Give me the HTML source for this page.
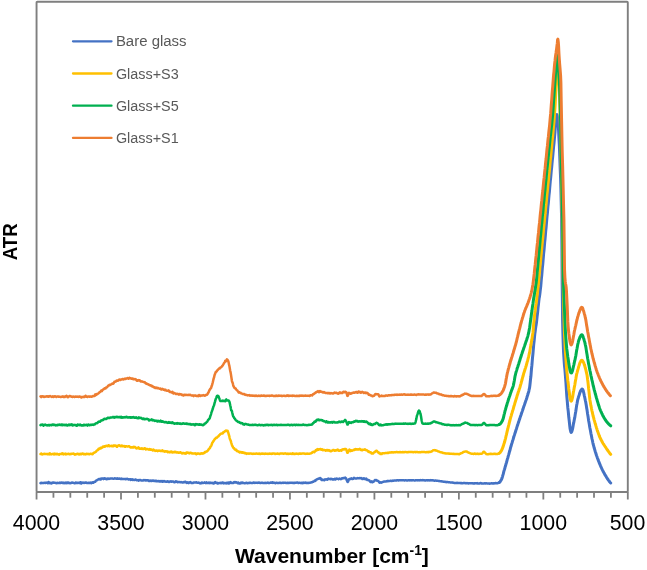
<!DOCTYPE html>
<html><head><meta charset="utf-8"><title>ATR spectra</title>
<style>
html,body{margin:0;padding:0;background:#fff;}
body{width:647px;height:570px;overflow:hidden;font-family:"Liberation Sans",sans-serif;}
svg{display:block;}
</style></head><body>
<svg width="647" height="570" viewBox="0 0 647 570" font-family="Liberation Sans, sans-serif">
<rect x="0" y="0" width="647" height="570" fill="#fff"/>
<rect x="36.55" y="1.8" width="591.25" height="490.2" rx="0.8" fill="none" stroke="#7f7f7f" stroke-width="1.9"/>
<g stroke="#7f7f7f" stroke-width="1.8"><line x1="627.80" y1="492.0" x2="627.80" y2="499.5"/><line x1="610.91" y1="492.0" x2="610.91" y2="497.7"/><line x1="594.01" y1="492.0" x2="594.01" y2="497.7"/><line x1="577.12" y1="492.0" x2="577.12" y2="497.7"/><line x1="560.23" y1="492.0" x2="560.23" y2="497.7"/><line x1="543.34" y1="492.0" x2="543.34" y2="499.5"/><line x1="526.44" y1="492.0" x2="526.44" y2="497.7"/><line x1="509.55" y1="492.0" x2="509.55" y2="497.7"/><line x1="492.66" y1="492.0" x2="492.66" y2="497.7"/><line x1="475.76" y1="492.0" x2="475.76" y2="497.7"/><line x1="458.87" y1="492.0" x2="458.87" y2="499.5"/><line x1="441.98" y1="492.0" x2="441.98" y2="497.7"/><line x1="425.09" y1="492.0" x2="425.09" y2="497.7"/><line x1="408.19" y1="492.0" x2="408.19" y2="497.7"/><line x1="391.30" y1="492.0" x2="391.30" y2="497.7"/><line x1="374.41" y1="492.0" x2="374.41" y2="499.5"/><line x1="357.51" y1="492.0" x2="357.51" y2="497.7"/><line x1="340.62" y1="492.0" x2="340.62" y2="497.7"/><line x1="323.73" y1="492.0" x2="323.73" y2="497.7"/><line x1="306.84" y1="492.0" x2="306.84" y2="497.7"/><line x1="289.94" y1="492.0" x2="289.94" y2="499.5"/><line x1="273.05" y1="492.0" x2="273.05" y2="497.7"/><line x1="256.16" y1="492.0" x2="256.16" y2="497.7"/><line x1="239.26" y1="492.0" x2="239.26" y2="497.7"/><line x1="222.37" y1="492.0" x2="222.37" y2="497.7"/><line x1="205.48" y1="492.0" x2="205.48" y2="499.5"/><line x1="188.59" y1="492.0" x2="188.59" y2="497.7"/><line x1="171.69" y1="492.0" x2="171.69" y2="497.7"/><line x1="154.80" y1="492.0" x2="154.80" y2="497.7"/><line x1="137.91" y1="492.0" x2="137.91" y2="497.7"/><line x1="121.01" y1="492.0" x2="121.01" y2="499.5"/><line x1="104.12" y1="492.0" x2="104.12" y2="497.7"/><line x1="87.23" y1="492.0" x2="87.23" y2="497.7"/><line x1="70.34" y1="492.0" x2="70.34" y2="497.7"/><line x1="53.44" y1="492.0" x2="53.44" y2="497.7"/><line x1="36.55" y1="492.0" x2="36.55" y2="499.5"/></g>
<g fill="none" stroke-width="2.6" stroke-linejoin="round" stroke-linecap="round">
<polyline stroke="#4472c4" stroke-width="2.5" points="40.5,483.1 40.8,483.2 41.2,482.9 41.5,482.7 41.8,483.0 42.1,483.1 42.5,482.9 42.8,483.0 43.1,483.1 43.5,483.0 43.8,483.0 44.1,482.9 44.5,482.8 44.8,482.7 45.1,482.8 45.4,483.0 45.8,482.9 46.1,482.7 46.4,482.6 46.8,482.7 47.1,482.8 47.4,483.0 47.8,483.3 48.1,483.0 48.4,482.1 48.7,482.1 49.1,482.6 49.4,482.8 49.7,482.9 50.1,483.2 50.4,483.3 50.7,482.8 51.1,482.9 51.4,483.4 51.7,483.4 52.0,483.1 52.4,482.7 52.7,482.5 53.0,482.8 53.4,482.8 53.7,482.5 54.0,482.6 54.4,482.7 54.7,482.7 55.0,482.8 55.3,482.9 55.7,482.9 56.0,482.9 56.3,483.1 56.7,483.2 57.0,483.0 57.3,482.8 57.7,482.9 58.0,483.0 58.3,482.9 58.6,482.9 59.0,483.0 59.3,482.9 59.6,482.6 60.0,482.7 60.3,482.9 60.6,482.9 61.0,482.6 61.3,482.5 61.6,482.8 61.9,482.8 62.3,483.0 62.6,482.9 62.9,482.6 63.3,482.9 63.6,483.2 63.9,482.9 64.3,482.8 64.6,483.0 64.9,483.2 65.2,483.1 65.6,482.7 65.9,482.5 66.2,482.6 66.6,482.9 66.9,483.1 67.2,482.8 67.6,482.4 67.9,482.5 68.2,483.1 68.5,483.1 68.9,482.8 69.2,482.9 69.5,483.1 69.9,483.2 70.2,483.2 70.5,483.1 70.9,482.9 71.2,483.0 71.5,482.9 71.8,482.5 72.2,482.6 72.5,482.7 72.8,482.6 73.2,482.7 73.5,482.9 73.8,483.0 74.2,483.1 74.5,483.2 74.8,483.3 75.1,483.0 75.5,482.6 75.8,482.6 76.1,483.1 76.5,483.0 76.8,482.7 77.1,482.8 77.5,483.0 77.8,483.1 78.1,483.0 78.4,482.8 78.8,482.8 79.1,482.8 79.4,482.8 79.8,483.1 80.1,483.2 80.4,482.4 80.8,482.2 81.1,483.1 81.4,483.5 81.7,482.8 82.1,482.6 82.4,482.8 82.7,482.7 83.1,482.6 83.4,482.8 83.7,482.9 84.1,482.9 84.4,482.9 84.7,482.8 85.0,482.6 85.4,482.6 85.7,482.6 86.0,482.7 86.4,482.5 86.7,482.7 87.0,483.1 87.4,483.1 87.7,482.9 88.0,483.0 88.3,482.8 88.7,482.8 89.0,483.0 89.3,482.9 89.7,482.8 90.0,482.9 90.3,482.7 90.7,482.5 91.0,482.5 91.3,482.9 91.6,483.1 92.0,482.8 92.3,482.5 92.6,482.3 93.0,482.5 93.3,482.7 93.6,482.3 94.0,482.0 94.3,482.0 94.6,482.0 94.9,481.9 95.3,481.8 95.6,481.2 95.9,480.6 96.3,480.5 96.6,480.4 96.9,480.2 97.3,480.1 97.6,479.8 97.9,479.5 98.2,479.5 98.6,479.3 98.9,479.0 99.2,479.3 99.6,479.4 99.9,479.2 100.2,478.8 100.6,478.9 100.9,479.4 101.2,479.1 101.5,478.4 101.9,478.4 102.2,478.4 102.5,478.4 102.9,478.5 103.2,478.8 103.5,479.1 103.9,478.8 104.2,478.2 104.5,478.2 104.8,478.4 105.2,478.8 105.5,478.9 105.8,478.7 106.2,478.7 106.5,479.3 106.8,479.3 107.2,478.7 107.5,478.6 107.8,478.6 108.1,478.5 108.5,478.6 108.8,478.9 109.1,478.7 109.5,478.6 109.8,478.7 110.1,478.6 110.5,478.5 110.8,478.5 111.1,478.5 111.4,478.4 111.8,478.4 112.1,478.6 112.4,478.6 112.8,478.6 113.1,478.7 113.4,478.8 113.8,478.7 114.1,478.5 114.4,478.5 114.7,478.3 115.1,478.4 115.4,478.5 115.7,478.4 116.1,478.4 116.4,478.8 116.7,478.8 117.1,478.5 117.4,478.3 117.7,478.6 118.0,478.7 118.4,478.6 118.7,478.7 119.0,478.6 119.4,478.5 119.7,478.7 120.0,478.8 120.4,478.7 120.7,478.7 121.0,479.1 121.3,478.8 121.7,478.6 122.0,478.9 122.3,479.0 122.7,479.0 123.0,479.0 123.3,479.0 123.7,479.0 124.0,479.0 124.3,479.1 124.6,479.0 125.0,478.9 125.3,479.1 125.6,479.3 126.0,479.1 126.3,479.1 126.6,479.1 127.0,478.8 127.3,478.8 127.6,479.0 127.9,479.0 128.3,479.2 128.6,479.5 128.9,479.5 129.3,479.3 129.6,479.3 129.9,479.2 130.3,479.3 130.6,479.9 130.9,479.7 131.2,479.4 131.6,479.7 131.9,479.5 132.2,479.3 132.6,479.7 132.9,480.0 133.2,479.7 133.6,479.7 133.9,479.8 134.2,479.7 134.5,479.9 134.9,479.9 135.2,479.6 135.5,479.5 135.9,479.6 136.2,479.9 136.5,480.1 136.9,480.3 137.2,480.3 137.5,480.2 137.8,480.1 138.2,480.0 138.5,480.4 138.8,480.6 139.2,480.2 139.5,480.0 139.8,480.0 140.2,480.0 140.5,480.0 140.8,480.2 141.1,480.4 141.5,480.6 141.8,480.5 142.1,480.5 142.5,480.6 142.8,480.6 143.1,480.6 143.5,480.3 143.8,480.1 144.1,480.2 144.4,480.2 144.8,480.1 145.1,480.1 145.4,480.2 145.8,480.6 146.1,480.6 146.4,480.3 146.8,480.2 147.1,480.3 147.4,480.4 147.7,480.2 148.1,480.2 148.4,480.4 148.7,480.6 149.1,481.0 149.4,481.1 149.7,480.9 150.1,480.7 150.4,480.5 150.7,480.7 151.0,480.9 151.4,481.1 151.7,481.0 152.0,480.5 152.4,480.5 152.7,480.7 153.0,480.7 153.4,480.6 153.7,480.6 154.0,481.0 154.3,481.1 154.7,480.9 155.0,480.7 155.3,480.8 155.7,481.1 156.0,480.9 156.3,480.7 156.7,481.1 157.0,481.3 157.3,481.3 157.6,481.2 158.0,481.1 158.3,481.0 158.6,481.1 159.0,481.2 159.3,481.4 159.6,481.4 160.0,481.1 160.3,481.1 160.6,481.4 160.9,481.6 161.3,481.4 161.6,481.1 161.9,481.3 162.3,481.8 162.6,481.7 162.9,481.1 163.3,481.2 163.6,481.4 163.9,481.0 164.2,481.0 164.6,481.5 164.9,481.6 165.2,481.4 165.6,481.5 165.9,481.7 166.2,481.8 166.6,481.8 166.9,481.6 167.2,481.4 167.5,481.3 167.9,481.6 168.2,481.9 168.5,481.7 168.9,481.5 169.2,481.8 169.5,481.9 169.9,481.6 170.2,481.5 170.5,481.4 170.8,481.2 171.2,481.5 171.5,481.7 171.8,481.6 172.2,481.6 172.5,481.4 172.8,481.4 173.2,481.8 173.5,482.0 173.8,481.7 174.1,481.9 174.5,482.2 174.8,482.2 175.1,482.1 175.5,481.5 175.8,481.3 176.1,481.7 176.5,481.7 176.8,481.5 177.1,481.7 177.4,482.2 177.8,482.2 178.1,482.0 178.4,482.1 178.8,482.1 179.1,482.0 179.4,482.0 179.8,482.1 180.1,482.2 180.4,482.2 180.7,482.1 181.1,482.2 181.4,482.1 181.7,482.2 182.1,482.4 182.4,482.5 182.7,482.4 183.1,482.5 183.4,482.4 183.7,482.1 184.0,482.1 184.4,482.3 184.7,482.2 185.0,481.8 185.4,481.8 185.7,481.9 186.0,482.2 186.4,482.6 186.7,482.9 187.0,482.7 187.3,482.5 187.7,482.3 188.0,482.4 188.3,482.8 188.7,483.1 189.0,482.8 189.3,482.4 189.7,482.3 190.0,482.2 190.3,482.1 190.6,482.3 191.0,482.7 191.3,482.9 191.6,482.8 192.0,483.0 192.3,483.1 192.6,482.9 193.0,483.0 193.3,482.8 193.6,482.5 193.9,482.5 194.3,482.5 194.6,482.5 194.9,482.5 195.3,482.6 195.6,482.6 195.9,482.4 196.3,482.3 196.6,482.3 196.9,482.6 197.2,482.8 197.6,482.8 197.9,482.8 198.2,482.8 198.6,482.6 198.9,482.6 199.2,482.9 199.6,483.1 199.9,483.2 200.2,483.4 200.5,483.1 200.9,483.1 201.2,483.2 201.5,482.8 201.9,482.4 202.2,482.4 202.5,482.8 202.9,483.1 203.2,483.0 203.5,482.8 203.8,482.8 204.2,482.7 204.5,482.4 204.8,482.7 205.2,482.7 205.5,482.8 205.8,483.1 206.2,482.7 206.5,482.3 206.8,482.6 207.1,482.9 207.5,482.9 207.8,483.0 208.1,483.1 208.5,482.9 208.8,482.5 209.1,482.8 209.5,483.1 209.8,482.7 210.1,482.5 210.4,482.9 210.8,483.1 211.1,483.1 211.4,483.0 211.8,482.8 212.1,483.1 212.4,483.0 212.8,482.8 213.1,483.4 213.4,483.5 213.7,483.0 214.1,483.0 214.4,483.1 214.7,482.5 215.1,482.1 215.4,482.3 215.7,482.5 216.1,482.8 216.4,483.0 216.7,482.9 217.0,482.7 217.4,483.1 217.7,483.6 218.0,483.5 218.4,483.3 218.7,483.1 219.0,483.0 219.4,482.9 219.7,483.0 220.0,483.1 220.3,483.2 220.7,483.0 221.0,482.7 221.3,482.9 221.7,483.1 222.0,482.7 222.3,482.5 222.7,482.5 223.0,482.6 223.3,483.1 223.6,483.4 224.0,483.3 224.3,483.0 224.6,482.9 225.0,482.9 225.3,482.9 225.6,483.2 226.0,483.4 226.3,483.2 226.6,482.9 226.9,482.8 227.3,483.1 227.6,483.3 227.9,482.9 228.3,482.5 228.6,483.0 228.9,483.5 229.3,483.4 229.6,483.2 229.9,482.8 230.2,482.2 230.6,482.1 230.9,482.4 231.2,482.8 231.6,483.0 231.9,483.1 232.2,483.0 232.6,483.1 232.9,482.9 233.2,482.8 233.5,482.9 233.9,482.5 234.2,482.0 234.5,482.3 234.9,482.4 235.2,482.1 235.5,482.4 235.9,482.6 236.2,482.3 236.5,482.3 236.8,482.5 237.2,482.9 237.5,483.2 237.8,483.0 238.2,482.5 238.5,482.6 238.8,483.2 239.2,483.5 239.5,483.3 239.8,483.2 240.1,483.4 240.5,483.1 240.8,482.7 241.1,482.5 241.5,482.9 241.8,483.2 242.1,482.8 242.5,482.6 242.8,482.6 243.1,482.9 243.4,483.1 243.8,483.0 244.1,483.1 244.4,483.2 244.8,483.3 245.1,483.2 245.4,483.1 245.8,482.9 246.1,482.7 246.4,482.8 246.7,482.9 247.1,483.1 247.4,483.3 247.7,483.3 248.1,483.0 248.4,482.9 248.7,483.0 249.1,482.7 249.4,482.8 249.7,482.9 250.0,482.8 250.4,482.8 250.7,482.9 251.0,483.0 251.4,483.0 251.7,483.0 252.0,483.0 252.4,483.0 252.7,483.0 253.0,482.8 253.3,482.6 253.7,482.5 254.0,482.6 254.3,482.8 254.7,483.0 255.0,482.9 255.3,482.8 255.7,482.7 256.0,482.7 256.3,482.8 256.6,482.7 257.0,482.7 257.3,482.8 257.6,482.9 258.0,482.7 258.3,482.6 258.6,482.6 259.0,482.7 259.3,482.7 259.6,482.6 259.9,482.9 260.3,483.1 260.6,483.1 260.9,483.0 261.3,482.8 261.6,482.7 261.9,482.8 262.3,482.8 262.6,482.7 262.9,482.9 263.2,482.9 263.6,482.9 263.9,482.9 264.2,482.9 264.6,482.9 264.9,482.9 265.2,482.8 265.6,482.9 265.9,483.0 266.2,483.1 266.5,483.0 266.9,482.9 267.2,482.8 267.5,482.8 267.9,482.6 268.2,482.7 268.5,483.0 268.9,483.1 269.2,483.0 269.5,483.0 269.8,482.9 270.2,482.8 270.5,482.6 270.8,482.6 271.2,482.7 271.5,482.8 271.8,482.6 272.2,482.3 272.5,482.4 272.8,482.7 273.1,482.9 273.5,482.8 273.8,482.6 274.1,482.7 274.5,482.9 274.8,483.0 275.1,483.1 275.5,483.2 275.8,483.0 276.1,482.9 276.4,482.8 276.8,482.8 277.1,482.9 277.4,482.9 277.8,483.0 278.1,483.1 278.4,483.1 278.8,483.0 279.1,483.0 279.4,482.8 279.7,482.7 280.1,482.7 280.4,482.8 280.7,483.0 281.1,483.1 281.4,483.1 281.7,483.0 282.1,482.9 282.4,482.8 282.7,482.8 283.0,482.9 283.4,482.9 283.7,482.8 284.0,482.8 284.4,482.7 284.7,482.7 285.0,482.8 285.4,482.7 285.7,482.8 286.0,483.0 286.3,483.1 286.7,483.1 287.0,482.9 287.3,482.7 287.7,482.7 288.0,482.8 288.3,483.0 288.7,483.1 289.0,483.0 289.3,482.8 289.6,482.8 290.0,482.8 290.3,482.7 290.6,482.8 291.0,482.9 291.3,482.8 291.6,482.8 292.0,482.8 292.3,482.8 292.6,482.8 292.9,483.0 293.3,483.1 293.6,483.1 293.9,482.8 294.3,482.7 294.6,483.0 294.9,483.0 295.3,482.8 295.6,482.7 295.9,482.7 296.2,482.7 296.6,482.6 296.9,482.6 297.2,482.6 297.6,482.6 297.9,482.8 298.2,483.0 298.6,483.0 298.9,482.9 299.2,482.8 299.5,482.7 299.9,482.7 300.2,482.9 300.5,483.0 300.9,483.0 301.2,482.8 301.5,482.8 301.9,483.0 302.2,483.2 302.5,483.2 302.8,482.9 303.2,482.6 303.5,482.7 303.8,482.9 304.2,482.9 304.5,482.8 304.8,482.7 305.2,482.5 305.5,482.6 305.8,482.9 306.1,483.0 306.5,482.9 306.8,482.8 307.1,483.0 307.5,483.1 307.8,482.8 308.1,482.8 308.5,482.9 308.8,482.9 309.1,482.9 309.4,482.8 309.8,482.7 310.1,482.7 310.4,482.6 310.8,482.6 311.1,482.5 311.4,482.4 311.8,482.2 312.1,482.1 312.4,482.2 312.7,481.9 313.1,481.7 313.4,481.7 313.7,481.5 314.1,481.2 314.4,480.9 314.7,480.6 315.1,480.8 315.4,480.9 315.7,480.4 316.0,479.9 316.4,479.7 316.7,479.5 317.0,479.4 317.4,479.1 317.7,478.9 318.0,478.9 318.4,478.8 318.7,478.6 319.0,478.7 319.3,478.7 319.7,478.5 320.0,478.1 320.3,478.1 320.7,478.3 321.0,478.8 321.3,479.6 321.7,480.0 322.0,480.0 322.3,479.7 322.6,479.6 323.0,479.8 323.3,480.0 323.6,480.0 324.0,480.1 324.3,480.3 324.6,479.8 325.0,479.4 325.3,479.6 325.6,479.6 325.9,479.4 326.3,479.3 326.6,479.5 326.9,479.6 327.3,479.7 327.6,479.5 327.9,478.8 328.3,478.6 328.6,478.7 328.9,479.0 329.2,479.1 329.6,479.0 329.9,478.9 330.2,479.2 330.6,479.2 330.9,478.8 331.2,478.8 331.6,479.0 331.9,479.0 332.2,479.1 332.5,479.5 332.9,479.6 333.2,479.3 333.5,479.2 333.9,479.5 334.2,479.3 334.5,478.9 334.9,478.8 335.2,479.1 335.5,479.5 335.8,479.3 336.2,478.8 336.5,478.6 336.8,478.8 337.2,478.7 337.5,478.7 337.8,478.9 338.2,479.0 338.5,479.2 338.8,479.1 339.1,478.7 339.5,478.6 339.8,478.6 340.1,478.9 340.5,479.0 340.8,478.9 341.1,479.1 341.5,478.8 341.8,478.4 342.1,478.6 342.4,478.5 342.8,478.2 343.1,478.0 343.4,478.0 343.8,478.3 344.1,478.2 344.4,478.0 344.8,477.9 345.1,477.6 345.4,477.8 345.7,478.2 346.1,478.4 346.4,479.2 346.7,480.2 347.1,480.9 347.4,481.7 347.7,481.9 348.1,481.4 348.4,480.7 348.7,479.8 349.0,479.2 349.4,479.1 349.7,479.3 350.0,479.1 350.4,478.7 350.7,478.9 351.0,478.7 351.4,478.4 351.7,478.6 352.0,478.9 352.3,478.9 352.7,478.9 353.0,478.9 353.3,478.8 353.7,478.3 354.0,477.8 354.3,478.0 354.7,478.3 355.0,478.3 355.3,478.5 355.6,478.6 356.0,478.6 356.3,478.6 356.6,478.4 357.0,478.3 357.3,478.2 357.6,478.1 358.0,478.3 358.3,478.3 358.6,478.3 358.9,478.2 359.3,478.1 359.6,478.1 359.9,478.2 360.3,478.1 360.6,478.2 360.9,478.3 361.3,478.1 361.6,478.2 361.9,478.7 362.2,478.9 362.6,478.8 362.9,479.0 363.2,479.0 363.6,478.5 363.9,478.2 364.2,478.4 364.6,478.8 364.9,479.0 365.2,479.2 365.5,479.1 365.9,478.8 366.2,478.6 366.5,479.0 366.9,479.8 367.2,480.0 367.5,479.9 367.9,479.8 368.2,480.0 368.5,480.2 368.8,480.2 369.2,480.2 369.5,480.7 369.8,481.2 370.2,481.5 370.5,481.9 370.8,482.1 371.2,482.1 371.5,481.9 371.8,481.4 372.1,481.7 372.5,482.2 372.8,481.8 373.1,481.7 373.5,481.7 373.8,481.5 374.1,481.2 374.5,480.6 374.8,480.1 375.1,480.0 375.4,480.0 375.8,480.2 376.1,480.3 376.4,480.1 376.8,480.3 377.1,480.7 377.4,480.7 377.8,480.7 378.1,481.1 378.4,481.2 378.7,481.5 379.1,482.0 379.4,482.5 379.7,482.7 380.1,482.6 380.4,482.3 380.7,482.3 381.1,482.7 381.4,482.5 381.7,482.4 382.0,482.3 382.4,482.2 382.7,482.0 383.0,481.9 383.4,481.8 383.7,481.7 384.0,481.5 384.4,481.4 384.7,481.4 385.0,481.5 385.3,481.6 385.7,481.5 386.0,481.4 386.3,481.4 386.7,481.2 387.0,481.1 387.3,481.1 387.7,481.1 388.0,481.2 388.3,481.1 388.6,480.9 389.0,481.0 389.3,481.1 389.6,481.1 390.0,480.9 390.3,480.9 390.6,480.8 391.0,480.8 391.3,480.8 391.6,481.0 391.9,481.0 392.3,480.9 392.6,480.8 392.9,480.6 393.3,480.6 393.6,480.7 393.9,480.6 394.3,480.5 394.6,480.4 394.9,480.5 395.2,480.5 395.6,480.4 395.9,480.4 396.2,480.5 396.6,480.5 396.9,480.3 397.2,480.2 397.6,480.2 397.9,480.3 398.2,480.4 398.5,480.4 398.9,480.4 399.2,480.3 399.5,480.3 399.9,480.3 400.2,480.3 400.5,480.2 400.9,480.3 401.2,480.3 401.5,480.2 401.8,480.2 402.2,480.3 402.5,480.3 402.8,480.3 403.2,480.3 403.5,480.2 403.8,480.3 404.2,480.4 404.5,480.4 404.8,480.4 405.1,480.3 405.5,480.3 405.8,480.3 406.1,480.3 406.5,480.4 406.8,480.5 407.1,480.4 407.5,480.4 407.8,480.4 408.1,480.3 408.4,480.2 408.8,480.3 409.1,480.4 409.4,480.4 409.8,480.3 410.1,480.3 410.4,480.4 410.8,480.3 411.1,480.3 411.4,480.3 411.7,480.4 412.1,480.4 412.4,480.3 412.7,480.3 413.1,480.2 413.4,480.2 413.7,480.3 414.1,480.4 414.4,480.4 414.7,480.4 415.0,480.4 415.4,480.4 415.7,480.3 416.0,480.2 416.4,480.3 416.7,480.3 417.0,480.2 417.4,480.3 417.7,480.4 418.0,480.3 418.3,480.3 418.7,480.3 419.0,480.4 419.3,480.4 419.7,480.3 420.0,480.3 420.3,480.3 420.7,480.1 421.0,480.2 421.3,480.3 421.6,480.3 422.0,480.2 422.3,480.2 422.6,480.1 423.0,480.1 423.3,480.2 423.6,480.3 424.0,480.2 424.3,480.3 424.6,480.4 424.9,480.5 425.3,480.4 425.6,480.4 425.9,480.4 426.3,480.2 426.6,480.2 426.9,480.3 427.3,480.2 427.6,480.2 427.9,480.4 428.2,480.4 428.6,480.3 428.9,480.3 429.2,480.3 429.6,480.5 429.9,480.5 430.2,480.3 430.6,480.2 430.9,480.1 431.2,480.2 431.5,480.3 431.9,480.5 432.2,480.4 432.5,480.3 432.9,480.3 433.2,480.4 433.5,480.4 433.9,480.5 434.2,480.6 434.5,480.7 434.8,480.6 435.2,480.5 435.5,480.4 435.8,480.6 436.2,480.7 436.5,480.7 436.8,480.7 437.2,480.7 437.5,480.7 437.8,480.8 438.1,480.9 438.5,481.0 438.8,481.0 439.1,481.1 439.5,481.1 439.8,481.1 440.1,481.2 440.5,481.3 440.8,481.3 441.1,481.2 441.4,481.3 441.8,481.5 442.1,481.6 442.4,481.5 442.8,481.5 443.1,481.6 443.4,481.7 443.8,481.8 444.1,481.9 444.4,481.8 444.7,481.7 445.1,481.8 445.4,481.9 445.7,482.0 446.1,482.2 446.4,482.1 446.7,482.0 447.1,482.0 447.4,481.9 447.7,481.9 448.0,482.2 448.4,482.2 448.7,482.2 449.0,482.3 449.4,482.2 449.7,482.2 450.0,482.4 450.4,482.5 450.7,482.5 451.0,482.5 451.3,482.6 451.7,482.6 452.0,482.5 452.3,482.4 452.7,482.5 453.0,482.7 453.3,482.7 453.7,482.8 454.0,482.9 454.3,482.9 454.6,482.9 455.0,483.1 455.3,483.1 455.6,483.1 456.0,483.1 456.3,483.0 456.6,482.9 457.0,482.8 457.3,482.8 457.6,483.0 457.9,483.0 458.3,483.0 458.6,483.0 458.9,483.0 459.3,483.1 459.6,483.0 459.9,483.0 460.3,483.0 460.6,483.1 460.9,483.2 461.2,483.0 461.6,483.0 461.9,483.2 462.2,483.2 462.6,483.2 462.9,483.2 463.2,483.0 463.6,483.0 463.9,483.0 464.2,482.9 464.5,482.9 464.9,483.1 465.2,483.3 465.5,483.2 465.9,483.1 466.2,483.1 466.5,483.2 466.9,483.3 467.2,483.3 467.5,483.2 467.8,483.1 468.2,483.2 468.5,483.4 468.8,483.4 469.2,483.3 469.5,483.2 469.8,483.2 470.2,483.3 470.5,483.3 470.8,483.3 471.1,483.3 471.5,483.3 471.8,483.2 472.1,483.2 472.5,483.3 472.8,483.4 473.1,483.5 473.5,483.5 473.8,483.3 474.1,483.3 474.4,483.4 474.8,483.4 475.1,483.3 475.4,483.3 475.8,483.3 476.1,483.4 476.4,483.3 476.8,483.2 477.1,483.1 477.4,483.2 477.7,483.4 478.1,483.4 478.4,483.4 478.7,483.4 479.1,483.4 479.4,483.4 479.7,483.4 480.1,483.2 480.4,483.1 480.7,483.1 481.0,483.1 481.4,483.2 481.7,483.5 482.0,483.5 482.4,483.5 482.7,483.5 483.0,483.5 483.4,483.4 483.7,483.4 484.0,483.4 484.3,483.4 484.7,483.3 485.0,483.4 485.3,483.4 485.7,483.4 486.0,483.3 486.3,483.3 486.7,483.4 487.0,483.4 487.3,483.4 487.6,483.5 488.0,483.5 488.3,483.4 488.6,483.5 489.0,483.5 489.3,483.6 489.6,483.7 490.0,483.5 490.3,483.4 490.6,483.4 490.9,483.4 491.3,483.4 491.6,483.3 491.9,483.3 492.3,483.5 492.6,483.5 492.9,483.3 493.3,483.3 493.6,483.4 493.9,483.4 494.2,483.5 494.6,483.3 494.9,483.2 495.2,483.1 495.6,483.1 495.9,483.3 496.2,483.3 496.6,483.2 496.9,483.1 497.2,483.2 497.5,483.2 497.9,483.1 498.2,483.0 498.5,482.9 498.9,482.7 499.2,482.5"/><polyline stroke="#4472c4" stroke-width="3.0" points="499.2,482.5 499.5,482.3 499.9,482.0 500.2,481.6 500.5,481.1 500.8,480.6 501.2,480.0 501.5,479.4 501.8,478.6 502.2,477.6 502.5,476.6 502.8,475.4 503.2,474.2 503.5,472.9 503.8,471.7 504.1,470.5 504.5,469.4 504.8,468.3 505.1,467.1 505.5,466.0 505.8,464.8 506.1,463.7 506.5,462.5 506.8,461.4 507.1,460.2 507.4,459.0 507.8,457.9 508.1,456.7 508.4,455.6 508.8,454.4 509.1,453.2 509.4,452.0 509.8,450.8 510.1,449.6 510.4,448.4 510.7,447.2 511.1,446.1 511.4,444.9 511.7,443.8 512.1,442.7 512.4,441.6 512.7,440.5 513.1,439.4 513.4,438.3 513.7,437.3 514.0,436.2 514.4,435.2 514.7,434.1 515.0,433.1 515.4,432.1 515.7,431.0 516.0,430.0 516.4,429.0 516.7,427.9 517.0,426.9 517.3,425.9 517.7,424.9 518.0,423.9 518.3,422.9 518.7,421.9 519.0,420.9 519.3,419.9 519.7,418.9 520.0,417.9 520.3,416.9 520.6,416.0 521.0,415.0 521.3,414.0 521.6,413.0 522.0,412.0 522.3,411.1 522.6,410.1 523.0,409.1 523.3,408.1 523.6,407.1 523.9,406.2 524.3,405.2 524.6,404.3 524.9,403.3 525.3,402.4 525.6,401.4 525.9,400.5 526.3,399.5 526.6,398.5 526.9,397.5 527.2,396.4 527.6,395.3 527.9,394.3 528.2,393.2 528.6,392.1 528.9,390.8 529.2,389.3 529.6,387.6 529.9,385.2 530.2,382.5 530.5,379.5 530.9,376.3 531.2,372.7 531.5,368.9 531.9,365.2 532.2,361.5 532.5,357.8 532.9,354.1 533.2,350.6 533.5,347.1 533.8,343.7 534.2,340.4 534.5,337.1 534.8,334.0 535.2,331.3 535.5,328.9 535.8,326.8 536.2,324.6 536.5,322.2 536.8,319.5 537.1,316.6 537.5,313.6 537.8,310.6 538.1,307.3 538.5,304.0 538.8,301.0 539.1,298.5 539.5,296.4 539.8,294.3 540.1,291.9 540.4,289.1 540.8,285.8 541.1,282.1 541.4,278.5 541.8,274.8 542.1,271.1 542.4,267.5 542.8,263.8 543.1,260.2 543.4,256.6 543.7,253.0 544.1,249.3 544.4,245.7 544.7,242.1 545.1,238.5 545.4,234.8 545.7,231.2 546.1,227.6 546.4,224.0 546.7,220.4 547.0,216.8 547.4,213.2 547.7,209.6 548.0,206.0 548.4,202.5 548.7,198.9 549.0,195.3 549.4,191.8 549.7,188.2 550.0,184.7 550.3,181.2 550.7,177.7 551.0,174.2 551.3,170.7 551.7,167.2 552.0,163.7 552.3,160.3 552.7,156.9 553.0,153.4 553.3,150.0 553.6,146.6 554.0,143.3 554.3,139.9 554.6,136.2 555.0,132.0 555.3,127.7 555.6,123.6 556.0,119.9 556.3,116.9 556.6,115.1 556.9,114.5 557.3,115.8 557.6,118.3 557.9,121.4 558.3,125.4 558.6,130.7 558.9,137.1 559.3,144.4 559.6,152.3 559.9,160.5 560.2,168.9 560.6,178.1 560.9,188.8 561.2,202.0 561.6,218.3 561.9,244.4 562.2,284.7 562.6,321.0 562.9,333.4 563.2,343.3 563.5,351.0 563.9,357.1 564.2,361.9 564.5,365.8 564.9,369.4 565.2,373.1 565.5,377.2 565.9,382.1 566.2,387.0 566.5,391.7 566.8,396.1 567.2,400.3 567.5,404.1 567.8,407.7 568.2,410.9 568.5,414.0 568.8,417.3 569.2,420.5 569.5,423.5 569.8,426.3 570.1,428.7 570.5,430.6 570.8,431.8 571.1,432.4 571.5,432.2 571.8,431.6 572.1,430.6 572.5,429.2 572.8,427.6 573.1,425.9 573.4,424.1 573.8,422.4 574.1,420.7 574.4,419.1 574.8,417.4 575.1,415.4 575.4,413.4 575.8,411.3 576.1,409.2 576.4,407.1 576.7,405.1 577.1,403.2 577.4,401.4 577.7,399.9 578.1,398.5 578.4,397.5 578.7,396.4 579.1,395.3 579.4,394.3 579.7,393.3 580.0,392.3 580.4,391.5 580.7,390.7 581.0,390.1 581.4,389.6 581.7,389.2 582.0,389.0 582.4,389.1 582.7,389.5 583.0,390.2 583.3,391.3 583.7,392.6 584.0,394.0 584.3,395.6 584.7,397.2 585.0,398.8 585.3,400.3 585.7,401.9 586.0,403.7 586.3,405.6 586.6,407.6 587.0,409.7 587.3,411.9 587.6,414.0 588.0,416.2 588.3,418.4 588.6,420.5 589.0,422.5 589.3,424.3 589.6,426.2 589.9,428.0 590.3,429.8 590.6,431.6 590.9,433.3 591.3,435.1 591.6,436.8 591.9,438.4 592.3,440.0 592.6,441.5 592.9,443.0 593.2,444.3 593.6,445.6 593.9,446.8 594.2,448.0 594.6,449.2 594.9,450.3 595.2,451.4 595.6,452.5 595.9,453.5 596.2,454.5 596.5,455.5 596.9,456.5 597.2,457.4 597.5,458.3 597.9,459.2 598.2,460.1 598.5,460.9 598.9,461.8 599.2,462.6 599.5,463.4 599.8,464.2 600.2,465.0 600.5,465.8 600.8,466.5 601.2,467.3 601.5,468.0 601.8,468.7 602.2,469.4 602.5,470.1 602.8,470.7 603.1,471.4 603.5,472.0 603.8,472.6 604.1,473.2 604.5,473.8 604.8,474.4 605.1,475.0 605.5,475.5 605.8,476.1 606.1,476.6 606.4,477.1 606.8,477.7 607.1,478.2 607.4,478.7 607.8,479.2 608.1,479.7 608.4,480.1 608.8,480.6 609.1,481.0 609.4,481.4 609.7,481.9 610.1,482.3 610.4,482.7 610.7,483.0"/><polyline stroke="#ffc000" stroke-width="2.5" points="40.5,454.0 40.8,453.8 41.2,453.5 41.5,453.6 41.8,454.3 42.1,454.5 42.5,454.2 42.8,454.2 43.1,454.1 43.5,454.0 43.8,454.1 44.1,454.0 44.5,453.8 44.8,453.8 45.1,454.0 45.4,454.1 45.8,454.0 46.1,453.9 46.4,453.9 46.8,453.9 47.1,454.1 47.4,454.2 47.8,454.2 48.1,454.0 48.4,453.9 48.7,454.3 49.1,454.4 49.4,453.6 49.7,453.2 50.1,453.5 50.4,454.0 50.7,454.3 51.1,454.4 51.4,454.3 51.7,454.2 52.0,454.1 52.4,454.1 52.7,454.1 53.0,453.8 53.4,453.8 53.7,454.2 54.0,454.4 54.4,453.9 54.7,453.6 55.0,453.9 55.3,454.1 55.7,454.2 56.0,454.1 56.3,453.8 56.7,454.2 57.0,454.2 57.3,453.8 57.7,454.0 58.0,454.3 58.3,454.3 58.6,454.5 59.0,454.7 59.3,454.3 59.6,453.9 60.0,453.9 60.3,454.0 60.6,454.0 61.0,453.9 61.3,454.0 61.6,454.0 61.9,453.6 62.3,453.2 62.6,453.4 62.9,454.0 63.3,454.3 63.6,454.4 63.9,454.1 64.3,453.9 64.6,454.0 64.9,453.9 65.2,453.6 65.6,453.8 65.9,454.4 66.2,454.3 66.6,454.1 66.9,453.9 67.2,453.9 67.6,454.1 67.9,454.0 68.2,453.8 68.5,453.8 68.9,453.8 69.2,454.1 69.5,454.2 69.9,454.1 70.2,454.2 70.5,454.0 70.9,453.9 71.2,453.8 71.5,453.9 71.8,453.9 72.2,453.8 72.5,453.7 72.8,453.7 73.2,453.5 73.5,453.5 73.8,453.8 74.2,454.2 74.5,454.3 74.8,454.6 75.1,454.7 75.5,454.3 75.8,454.2 76.1,454.3 76.5,454.1 76.8,454.0 77.1,453.9 77.5,453.7 77.8,453.7 78.1,454.0 78.4,454.0 78.8,454.0 79.1,454.4 79.4,454.4 79.8,454.0 80.1,453.8 80.4,453.9 80.8,454.0 81.1,454.3 81.4,454.2 81.7,453.9 82.1,453.7 82.4,453.6 82.7,453.5 83.1,453.7 83.4,454.0 83.7,454.3 84.1,454.3 84.4,454.0 84.7,454.0 85.0,454.2 85.4,454.4 85.7,454.3 86.0,454.0 86.4,453.7 86.7,453.7 87.0,453.9 87.4,454.0 87.7,453.9 88.0,453.7 88.3,453.9 88.7,454.1 89.0,454.3 89.3,454.3 89.7,454.1 90.0,453.8 90.3,453.8 90.7,453.8 91.0,453.8 91.3,453.9 91.6,454.0 92.0,454.1 92.3,454.2 92.6,454.1 93.0,453.6 93.3,453.1 93.6,453.0 94.0,452.8 94.3,452.5 94.6,452.5 94.9,452.4 95.3,452.1 95.6,452.0 95.9,451.8 96.3,451.2 96.6,450.7 96.9,450.5 97.3,450.3 97.6,449.9 97.9,449.9 98.2,449.5 98.6,448.8 98.9,448.7 99.2,448.7 99.6,448.9 99.9,448.7 100.2,448.1 100.6,447.8 100.9,447.9 101.2,447.9 101.5,448.1 101.9,447.8 102.2,447.4 102.5,447.0 102.9,446.6 103.2,446.8 103.5,446.9 103.9,446.5 104.2,446.3 104.5,446.6 104.8,446.8 105.2,446.3 105.5,446.0 105.8,446.0 106.2,445.8 106.5,445.8 106.8,446.0 107.2,446.0 107.5,446.0 107.8,446.2 108.1,445.9 108.5,445.3 108.8,445.2 109.1,445.7 109.5,446.2 109.8,446.1 110.1,445.9 110.5,445.9 110.8,446.0 111.1,446.1 111.4,445.8 111.8,445.8 112.1,446.2 112.4,446.1 112.8,445.9 113.1,446.3 113.4,446.2 113.8,445.5 114.1,445.4 114.4,445.8 114.7,445.9 115.1,445.5 115.4,445.4 115.7,445.8 116.1,445.7 116.4,446.0 116.7,446.7 117.1,446.8 117.4,446.3 117.7,445.9 118.0,445.7 118.4,445.4 118.7,445.6 119.0,445.6 119.4,445.3 119.7,445.5 120.0,445.9 120.4,446.1 120.7,446.2 121.0,446.2 121.3,445.8 121.7,445.5 122.0,445.5 122.3,445.9 122.7,446.3 123.0,446.3 123.3,446.2 123.7,446.0 124.0,446.0 124.3,446.0 124.6,446.2 125.0,446.8 125.3,446.8 125.6,446.3 126.0,446.2 126.3,446.3 126.6,446.3 127.0,446.4 127.3,446.4 127.6,446.4 127.9,446.4 128.3,446.4 128.6,446.3 128.9,446.2 129.3,446.4 129.6,446.7 129.9,446.9 130.3,447.2 130.6,447.6 130.9,447.5 131.2,447.3 131.6,447.3 131.9,447.4 132.2,447.6 132.6,447.5 132.9,447.2 133.2,447.6 133.6,447.5 133.9,446.9 134.2,447.0 134.5,447.2 134.9,447.0 135.2,447.1 135.5,447.5 135.9,447.8 136.2,448.3 136.5,448.5 136.9,448.3 137.2,448.2 137.5,448.2 137.8,448.0 138.2,447.6 138.5,447.4 138.8,447.8 139.2,448.5 139.5,448.8 139.8,448.7 140.2,448.4 140.5,448.4 140.8,448.8 141.1,448.9 141.5,448.5 141.8,448.3 142.1,448.5 142.5,448.9 142.8,448.9 143.1,448.7 143.5,448.8 143.8,448.9 144.1,448.6 144.4,448.3 144.8,448.2 145.1,448.4 145.4,449.1 145.8,449.4 146.1,448.9 146.4,449.0 146.8,449.1 147.1,449.0 147.4,449.0 147.7,449.2 148.1,449.4 148.4,449.4 148.7,449.4 149.1,449.6 149.4,449.2 149.7,449.0 150.1,449.3 150.4,449.7 150.7,449.8 151.0,449.6 151.4,449.5 151.7,449.8 152.0,450.0 152.4,450.2 152.7,450.4 153.0,450.0 153.4,449.5 153.7,449.7 154.0,450.2 154.3,450.4 154.7,450.5 155.0,450.7 155.3,450.9 155.7,450.8 156.0,450.5 156.3,450.6 156.7,450.6 157.0,450.5 157.3,450.9 157.6,451.2 158.0,451.0 158.3,450.8 158.6,450.6 159.0,450.5 159.3,450.6 159.6,450.7 160.0,450.7 160.3,450.8 160.6,451.1 160.9,451.1 161.3,450.9 161.6,450.9 161.9,450.5 162.3,450.3 162.6,450.9 162.9,451.2 163.3,451.1 163.6,450.9 163.9,451.1 164.2,451.5 164.6,451.7 164.9,451.6 165.2,451.4 165.6,451.3 165.9,451.3 166.2,451.5 166.6,451.5 166.9,451.3 167.2,451.4 167.5,451.9 167.9,452.2 168.2,452.1 168.5,451.8 168.9,451.9 169.2,452.1 169.5,452.3 169.9,452.4 170.2,452.1 170.5,451.7 170.8,451.6 171.2,451.5 171.5,451.8 171.8,452.3 172.2,452.3 172.5,452.1 172.8,452.5 173.2,452.3 173.5,452.0 173.8,452.2 174.1,452.2 174.5,451.9 174.8,451.8 175.1,452.2 175.5,452.1 175.8,451.9 176.1,452.3 176.5,452.6 176.8,452.5 177.1,452.5 177.4,452.4 177.8,452.3 178.1,452.6 178.4,452.7 178.8,452.5 179.1,452.6 179.4,452.7 179.8,452.5 180.1,452.4 180.4,452.3 180.7,452.4 181.1,452.8 181.4,452.8 181.7,453.1 182.1,453.4 182.4,453.2 182.7,452.9 183.1,452.9 183.4,453.0 183.7,453.2 184.0,453.2 184.4,453.4 184.7,453.4 185.0,453.1 185.4,453.1 185.7,453.4 186.0,453.6 186.4,453.3 186.7,452.6 187.0,452.4 187.3,452.6 187.7,452.8 188.0,452.7 188.3,452.7 188.7,452.9 189.0,453.3 189.3,453.4 189.7,453.0 190.0,452.8 190.3,452.8 190.6,452.7 191.0,452.7 191.3,453.1 191.6,453.4 192.0,453.3 192.3,453.3 192.6,453.5 193.0,453.5 193.3,453.4 193.6,453.4 193.9,453.4 194.3,453.6 194.6,453.6 194.9,453.3 195.3,453.3 195.6,453.7 195.9,454.1 196.3,454.2 196.6,453.8 196.9,453.6 197.2,453.6 197.6,453.6 197.9,453.7 198.2,453.4 198.6,453.5 198.9,453.6 199.2,453.7 199.6,453.9 199.9,454.0 200.2,453.9 200.5,453.7 200.9,453.4 201.2,453.2 201.5,453.2 201.9,453.5 202.2,453.7 202.5,453.4 202.9,453.3 203.2,453.4 203.5,453.2 203.8,453.0 204.2,453.1 204.5,452.8 204.8,452.1 205.2,452.1 205.5,452.2 205.8,451.9 206.2,451.5 206.5,451.5 206.8,451.5 207.1,451.1 207.5,450.9 207.8,450.6 208.1,450.1 208.5,449.7 208.8,449.3 209.1,448.7 209.5,448.4 209.8,448.2 210.1,447.6 210.4,446.7 210.8,446.3 211.1,446.1 211.4,445.4 211.8,444.3 212.1,443.3 212.4,442.6 212.8,442.2 213.1,441.6 213.4,441.0 213.7,440.8 214.1,440.4 214.4,439.6 214.7,439.1 215.1,438.9 215.4,438.6 215.7,438.1 216.1,437.8 216.4,437.9 216.7,437.8 217.0,437.6 217.4,437.2 217.7,436.7 218.0,436.4 218.4,436.3 218.7,436.0 219.0,435.4 219.4,435.1 219.7,434.8 220.0,434.5 220.3,434.0 220.7,433.8 221.0,433.7 221.3,433.6 221.7,433.4 222.0,433.4 222.3,433.6 222.7,433.6 223.0,432.9 223.3,432.3 223.6,432.2 224.0,432.1 224.3,431.9 224.6,431.6 225.0,431.3 225.3,431.1 225.6,430.8 226.0,430.5 226.3,430.6 226.6,431.0 226.9,431.1 227.3,430.8 227.6,430.8 227.9,431.6 228.3,432.7 228.6,433.9 228.9,435.0 229.3,436.2 229.6,437.8 229.9,438.9 230.2,439.6 230.6,440.4 230.9,441.4 231.2,442.6 231.6,443.8 231.9,444.9 232.2,445.8 232.6,446.4 232.9,447.0 233.2,447.5 233.5,447.9 233.9,447.9 234.2,448.3 234.5,449.2 234.9,449.6 235.2,449.6 235.5,449.7 235.9,449.6 236.2,449.7 236.5,450.5 236.8,450.9 237.2,450.8 237.5,451.0 237.8,451.3 238.2,451.3 238.5,451.6 238.8,451.9 239.2,451.8 239.5,452.2 239.8,452.5 240.1,452.1 240.5,451.9 240.8,452.1 241.1,452.0 241.5,452.2 241.8,452.7 242.1,452.6 242.5,452.2 242.8,452.4 243.1,452.8 243.4,452.8 243.8,452.6 244.1,452.8 244.4,453.2 244.8,453.3 245.1,453.1 245.4,453.1 245.8,453.4 246.1,453.6 246.4,453.8 246.7,453.9 247.1,453.5 247.4,453.4 247.7,453.5 248.1,453.6 248.4,453.5 248.7,453.6 249.1,453.8 249.4,453.6 249.7,453.5 250.0,453.5 250.4,453.5 250.7,453.6 251.0,453.6 251.4,453.6 251.7,453.7 252.0,453.7 252.4,453.8 252.7,453.9 253.0,453.7 253.3,453.6 253.7,453.7 254.0,453.8 254.3,453.8 254.7,453.7 255.0,453.7 255.3,453.8 255.7,453.8 256.0,453.6 256.3,453.6 256.6,453.6 257.0,453.6 257.3,453.7 257.6,453.8 258.0,453.7 258.3,453.6 258.6,453.7 259.0,453.9 259.3,453.8 259.6,453.6 259.9,453.6 260.3,454.0 260.6,454.0 260.9,453.9 261.3,453.8 261.6,453.6 261.9,453.7 262.3,453.7 262.6,453.5 262.9,453.5 263.2,453.8 263.6,453.8 263.9,453.7 264.2,453.8 264.6,453.9 264.9,453.7 265.2,453.5 265.6,453.6 265.9,453.7 266.2,453.8 266.5,453.7 266.9,453.8 267.2,453.9 267.5,453.8 267.9,453.8 268.2,453.9 268.5,453.8 268.9,453.8 269.2,453.8 269.5,453.6 269.8,453.5 270.2,453.6 270.5,453.7 270.8,453.7 271.2,453.7 271.5,453.7 271.8,453.9 272.2,453.8 272.5,453.5 272.8,453.5 273.1,453.5 273.5,453.4 273.8,453.6 274.1,453.6 274.5,453.6 274.8,453.7 275.1,453.9 275.5,453.9 275.8,453.8 276.1,453.8 276.4,453.7 276.8,453.7 277.1,453.6 277.4,453.6 277.8,453.6 278.1,453.8 278.4,453.8 278.8,453.9 279.1,454.0 279.4,454.0 279.7,453.6 280.1,453.5 280.4,453.6 280.7,453.5 281.1,453.5 281.4,453.6 281.7,453.6 282.1,453.6 282.4,453.6 282.7,453.5 283.0,453.4 283.4,453.7 283.7,453.7 284.0,453.6 284.4,453.6 284.7,453.5 285.0,453.5 285.4,453.6 285.7,453.5 286.0,453.6 286.3,453.8 286.7,453.9 287.0,453.9 287.3,453.7 287.7,453.6 288.0,453.7 288.3,453.9 288.7,454.0 289.0,453.8 289.3,453.7 289.6,453.8 290.0,453.7 290.3,453.6 290.6,453.7 291.0,453.8 291.3,453.8 291.6,453.9 292.0,453.9 292.3,453.7 292.6,453.3 292.9,453.4 293.3,453.6 293.6,453.8 293.9,454.0 294.3,453.8 294.6,453.7 294.9,453.9 295.3,453.9 295.6,453.8 295.9,453.7 296.2,453.5 296.6,453.6 296.9,453.7 297.2,453.7 297.6,453.8 297.9,453.9 298.2,453.9 298.6,453.9 298.9,453.7 299.2,453.4 299.5,453.4 299.9,453.6 300.2,453.7 300.5,453.6 300.9,453.5 301.2,453.7 301.5,453.7 301.9,453.5 302.2,453.5 302.5,453.6 302.8,453.5 303.2,453.6 303.5,453.6 303.8,453.5 304.2,453.5 304.5,453.6 304.8,453.7 305.2,453.8 305.5,453.9 305.8,453.8 306.1,453.7 306.5,453.6 306.8,453.7 307.1,453.7 307.5,453.6 307.8,453.6 308.1,453.7 308.5,453.7 308.8,453.8 309.1,453.8 309.4,453.7 309.8,453.6 310.1,453.6 310.4,453.5 310.8,453.3 311.1,453.3 311.4,453.2 311.8,453.0 312.1,452.7 312.4,452.3 312.7,452.0 313.1,451.8 313.4,451.8 313.7,451.8 314.1,452.1 314.4,452.2 314.7,451.6 315.1,451.3 315.4,450.9 315.7,450.3 316.0,450.1 316.4,450.4 316.7,450.4 317.0,449.9 317.4,449.2 317.7,449.1 318.0,449.4 318.4,449.7 318.7,449.5 319.0,449.5 319.3,449.5 319.7,449.3 320.0,449.2 320.3,449.0 320.7,448.9 321.0,449.3 321.3,449.7 321.7,449.7 322.0,449.3 322.3,449.4 322.6,449.9 323.0,450.2 323.3,450.2 323.6,449.9 324.0,449.9 324.3,449.9 324.6,450.0 325.0,450.1 325.3,450.4 325.6,450.6 325.9,450.3 326.3,450.0 326.6,450.4 326.9,450.4 327.3,450.1 327.6,450.1 327.9,450.4 328.3,450.5 328.6,450.2 328.9,450.1 329.2,450.4 329.6,450.9 329.9,451.0 330.2,450.8 330.6,451.2 330.9,451.3 331.2,451.0 331.6,450.9 331.9,450.8 332.2,450.6 332.5,450.4 332.9,450.3 333.2,450.0 333.5,449.9 333.9,450.1 334.2,450.3 334.5,450.6 334.9,450.8 335.2,450.5 335.5,450.4 335.8,450.2 336.2,450.0 336.5,450.2 336.8,450.4 337.2,450.2 337.5,449.8 337.8,449.6 338.2,450.0 338.5,450.4 338.8,450.7 339.1,450.8 339.5,450.7 339.8,450.6 340.1,450.4 340.5,450.3 340.8,450.3 341.1,450.6 341.5,450.7 341.8,450.1 342.1,449.6 342.4,449.7 342.8,449.5 343.1,449.3 343.4,449.2 343.8,449.2 344.1,449.5 344.4,449.4 344.8,449.0 345.1,448.9 345.4,449.0 345.7,449.0 346.1,449.1 346.4,449.7 346.7,450.8 347.1,452.0 347.4,452.8 347.7,452.7 348.1,452.2 348.4,451.7 348.7,451.2 349.0,450.3 349.4,449.6 349.7,449.8 350.0,450.3 350.4,450.7 350.7,451.1 351.0,450.7 351.4,450.2 351.7,450.4 352.0,450.6 352.3,450.7 352.7,450.5 353.0,450.2 353.3,450.0 353.7,449.7 354.0,449.7 354.3,450.1 354.7,450.1 355.0,449.4 355.3,449.0 355.6,449.3 356.0,449.5 356.3,449.5 356.6,449.2 357.0,449.2 357.3,449.5 357.6,449.6 358.0,449.4 358.3,449.3 358.6,449.5 358.9,449.5 359.3,449.4 359.6,449.1 359.9,448.9 360.3,449.2 360.6,449.7 360.9,449.9 361.3,449.9 361.6,449.8 361.9,450.2 362.2,450.3 362.6,449.9 362.9,449.8 363.2,449.8 363.6,449.7 363.9,449.7 364.2,449.8 364.6,449.5 364.9,449.3 365.2,449.5 365.5,449.7 365.9,450.1 366.2,450.3 366.5,450.2 366.9,450.4 367.2,450.5 367.5,450.7 367.9,451.2 368.2,451.7 368.5,451.6 368.8,451.4 369.2,451.8 369.5,452.2 369.8,452.2 370.2,452.3 370.5,452.4 370.8,452.3 371.2,452.9 371.5,453.5 371.8,453.4 372.1,453.2 372.5,453.4 372.8,453.6 373.1,453.5 373.5,452.9 373.8,452.5 374.1,452.4 374.5,452.3 374.8,452.1 375.1,451.8 375.4,451.3 375.8,451.0 376.1,450.9 376.4,450.8 376.8,450.8 377.1,451.2 377.4,451.7 377.8,452.0 378.1,452.0 378.4,452.6 378.7,453.1 379.1,453.1 379.4,452.8 379.7,453.0 380.1,453.7 380.4,454.0 380.7,453.7 381.1,453.5 381.4,453.9 381.7,454.0 382.0,453.5 382.4,453.4 382.7,453.3 383.0,453.3 383.4,453.2 383.7,453.3 384.0,453.3 384.4,453.3 384.7,453.2 385.0,453.1 385.3,453.1 385.7,453.1 386.0,453.0 386.3,453.0 386.7,453.0 387.0,453.0 387.3,452.8 387.7,452.8 388.0,452.9 388.3,453.0 388.6,452.8 389.0,452.6 389.3,452.5 389.6,452.4 390.0,452.4 390.3,452.5 390.6,452.5 391.0,452.4 391.3,452.3 391.6,452.4 391.9,452.3 392.3,452.3 392.6,452.4 392.9,452.4 393.3,452.4 393.6,452.4 393.9,452.3 394.3,452.3 394.6,452.2 394.9,452.3 395.2,452.3 395.6,452.2 395.9,452.2 396.2,452.0 396.6,452.0 396.9,452.0 397.2,452.1 397.6,452.2 397.9,452.2 398.2,452.2 398.5,452.2 398.9,452.2 399.2,452.1 399.5,452.1 399.9,452.2 400.2,452.2 400.5,452.1 400.9,452.1 401.2,452.2 401.5,452.3 401.8,452.3 402.2,452.2 402.5,452.0 402.8,452.0 403.2,452.0 403.5,452.2 403.8,452.3 404.2,452.2 404.5,452.1 404.8,452.1 405.1,452.0 405.5,452.0 405.8,451.9 406.1,452.0 406.5,452.1 406.8,452.2 407.1,452.2 407.5,452.2 407.8,452.1 408.1,452.2 408.4,452.1 408.8,451.9 409.1,452.0 409.4,452.1 409.8,452.1 410.1,452.1 410.4,452.1 410.8,452.0 411.1,452.0 411.4,452.1 411.7,452.1 412.1,452.0 412.4,452.1 412.7,452.1 413.1,452.2 413.4,452.2 413.7,452.1 414.1,452.1 414.4,452.0 414.7,452.0 415.0,451.9 415.4,452.1 415.7,452.2 416.0,452.1 416.4,452.1 416.7,452.0 417.0,452.1 417.4,452.1 417.7,452.1 418.0,452.2 418.3,452.3 418.7,452.3 419.0,452.3 419.3,452.1 419.7,452.2 420.0,452.2 420.3,452.2 420.7,452.2 421.0,452.1 421.3,452.0 421.6,452.0 422.0,452.0 422.3,452.0 422.6,452.1 423.0,452.1 423.3,452.1 423.6,452.1 424.0,452.1 424.3,451.9 424.6,452.0 424.9,452.1 425.3,452.2 425.6,452.2 425.9,452.2 426.3,452.2 426.6,452.1 426.9,452.0 427.3,452.0 427.6,452.0 427.9,452.2 428.2,452.3 428.6,452.1 428.9,451.9 429.2,451.8 429.6,451.9 429.9,452.0 430.2,452.0 430.6,451.8 430.9,451.7 431.2,451.6 431.5,451.5 431.9,451.3 432.2,451.0 432.5,450.8 432.9,450.5 433.2,450.2 433.5,450.2 433.9,450.2 434.2,450.2 434.5,450.1 434.8,450.2 435.2,450.3 435.5,450.5 435.8,450.6 436.2,450.5 436.5,450.6 436.8,450.8 437.2,450.9 437.5,451.0 437.8,451.2 438.1,451.3 438.5,451.4 438.8,451.5 439.1,451.6 439.5,451.8 439.8,452.0 440.1,452.0 440.5,452.2 440.8,452.3 441.1,452.3 441.4,452.4 441.8,452.4 442.1,452.5 442.4,452.7 442.8,452.9 443.1,453.0 443.4,452.9 443.8,453.0 444.1,453.1 444.4,453.3 444.7,453.3 445.1,453.3 445.4,453.4 445.7,453.4 446.1,453.5 446.4,453.6 446.7,453.6 447.1,453.6 447.4,453.6 447.7,453.6 448.0,453.5 448.4,453.4 448.7,453.5 449.0,453.7 449.4,453.7 449.7,453.6 450.0,453.8 450.4,453.8 450.7,453.7 451.0,453.7 451.3,453.7 451.7,453.7 452.0,453.7 452.3,453.8 452.7,453.9 453.0,453.9 453.3,453.9 453.7,453.8 454.0,453.9 454.3,454.0 454.6,453.9 455.0,453.9 455.3,453.9 455.6,454.0 456.0,454.1 456.3,454.1 456.6,454.0 457.0,453.9 457.3,454.0 457.6,454.1 457.9,454.1 458.3,454.1 458.6,454.1 458.9,454.2 459.3,454.2 459.6,454.0 459.9,453.8 460.3,453.7 460.6,453.5 460.9,453.3 461.2,453.2 461.6,453.1 461.9,453.0 462.2,452.8 462.6,452.6 462.9,452.3 463.2,452.1 463.6,451.9 463.9,451.9 464.2,451.8 464.5,451.7 464.9,451.6 465.2,451.6 465.5,451.6 465.9,451.6 466.2,451.5 466.5,451.4 466.9,451.6 467.2,451.9 467.5,452.1 467.8,452.3 468.2,452.4 468.5,452.6 468.8,452.7 469.2,452.9 469.5,453.0 469.8,453.1 470.2,453.2 470.5,453.4 470.8,453.5 471.1,453.6 471.5,453.7 471.8,453.7 472.1,453.8 472.5,453.8 472.8,453.8 473.1,453.9 473.5,453.9 473.8,453.9 474.1,453.8 474.4,453.6 474.8,453.6 475.1,453.8 475.4,453.9 475.8,453.9 476.1,453.8 476.4,453.8 476.8,454.0 477.1,453.9 477.4,453.7 477.7,453.6 478.1,453.7 478.4,453.9 478.7,454.1 479.1,454.0 479.4,453.9 479.7,453.7 480.1,453.7 480.4,453.8 480.7,453.8 481.0,453.7 481.4,453.7 481.7,453.7 482.0,453.6 482.4,453.3 482.7,452.9 483.0,452.4 483.4,452.0 483.7,451.7 484.0,451.7 484.3,452.0 484.7,452.3 485.0,452.7 485.3,453.1 485.7,453.4 486.0,453.7 486.3,454.0 486.7,454.1 487.0,454.3 487.3,454.2 487.6,454.2 488.0,454.3 488.3,454.2 488.6,454.1 489.0,454.1 489.3,454.0 489.6,454.0 490.0,454.1 490.3,454.0 490.6,453.8 490.9,453.7 491.3,453.9 491.6,454.0 491.9,454.0 492.3,454.0 492.6,454.1 492.9,454.1 493.3,453.9 493.6,453.9 493.9,453.8 494.2,453.8 494.6,453.9 494.9,453.9 495.2,453.8 495.6,453.9 495.9,454.0 496.2,454.1 496.6,454.0 496.9,453.9 497.2,454.0 497.5,454.0 497.9,453.9 498.2,453.8 498.5,453.6 498.9,453.4 499.2,453.2"/><polyline stroke="#ffc000" stroke-width="3.0" points="499.2,453.2 499.5,453.0 499.9,452.7 500.2,452.4 500.5,451.9 500.8,451.5 501.2,451.0 501.5,450.4 501.8,449.8 502.2,449.0 502.5,448.2 502.8,447.4 503.2,446.4 503.5,445.4 503.8,444.4 504.1,443.4 504.5,442.3 504.8,441.1 505.1,439.9 505.5,438.6 505.8,437.2 506.1,435.8 506.5,434.4 506.8,433.0 507.1,431.6 507.4,430.3 507.8,429.0 508.1,427.6 508.4,426.3 508.8,424.9 509.1,423.6 509.4,422.3 509.8,421.0 510.1,419.7 510.4,418.5 510.7,417.3 511.1,416.1 511.4,415.0 511.7,413.8 512.1,412.7 512.4,411.6 512.7,410.5 513.1,409.4 513.4,408.3 513.7,407.1 514.0,406.0 514.4,404.9 514.7,403.8 515.0,402.7 515.4,401.6 515.7,400.5 516.0,399.4 516.4,398.4 516.7,397.3 517.0,396.2 517.3,395.1 517.7,394.1 518.0,393.0 518.3,392.0 518.7,391.0 519.0,390.0 519.3,389.0 519.7,388.0 520.0,387.0 520.3,385.9 520.6,384.8 521.0,383.6 521.3,382.4 521.6,381.2 522.0,380.0 522.3,378.7 522.6,377.5 523.0,376.3 523.3,375.1 523.6,373.9 523.9,372.8 524.3,371.8 524.6,370.7 524.9,369.7 525.3,368.6 525.6,367.6 525.9,366.5 526.3,365.4 526.6,364.2 526.9,363.1 527.2,361.9 527.6,360.7 527.9,359.5 528.2,358.2 528.6,356.9 528.9,355.5 529.2,354.0 529.6,352.5 529.9,350.7 530.2,348.9 530.5,347.0 530.9,345.1 531.2,343.1 531.5,341.3 531.9,339.4 532.2,337.5 532.5,335.3 532.9,332.9 533.2,329.9 533.5,326.2 533.8,322.6 534.2,319.3 534.5,316.0 534.8,313.0 535.2,310.3 535.5,307.9 535.8,305.7 536.2,303.5 536.5,301.1 536.8,298.4 537.1,295.5 537.5,292.5 537.8,289.5 538.1,286.4 538.5,283.3 538.8,280.0 539.1,276.4 539.5,272.7 539.8,269.0 540.1,265.5 540.4,262.0 540.8,258.5 541.1,255.0 541.4,251.5 541.8,248.1 542.1,244.6 542.4,241.2 542.8,237.8 543.1,234.5 543.4,231.1 543.7,227.7 544.1,224.4 544.4,221.0 544.7,217.7 545.1,214.4 545.4,211.0 545.7,207.7 546.1,204.4 546.4,201.1 546.7,197.8 547.0,194.4 547.4,191.1 547.7,187.8 548.0,184.4 548.4,181.1 548.7,177.7 549.0,174.3 549.4,170.9 549.7,167.5 550.0,164.1 550.3,160.7 550.7,157.2 551.0,153.8 551.3,150.3 551.7,146.8 552.0,143.2 552.3,139.7 552.7,136.2 553.0,132.8 553.3,129.3 553.6,125.7 554.0,121.8 554.3,117.6 554.6,112.8 555.0,107.6 555.3,101.9 555.6,95.9 556.0,89.5 556.3,82.8 556.6,73.6 556.9,64.0 557.3,61.2 557.6,64.5 557.9,69.3 558.3,72.8 558.6,76.1 558.9,80.0 559.3,85.8 559.6,95.2 559.9,107.0 560.2,119.7 560.6,134.5 560.9,150.5 561.2,166.1 561.6,181.7 561.9,198.1 562.2,216.0 562.6,237.3 562.9,261.6 563.2,282.0 563.5,298.1 563.9,312.6 564.2,325.0 564.5,334.4 564.9,341.4 565.2,347.7 565.5,353.4 565.9,358.5 566.2,363.1 566.5,367.2 566.8,371.0 567.2,374.4 567.5,377.6 567.8,380.5 568.2,383.3 568.5,386.2 568.8,389.0 569.2,391.7 569.5,394.2 569.8,396.4 570.1,398.3 570.5,399.8 570.8,400.8 571.1,401.2 571.5,401.0 571.8,400.3 572.1,399.1 572.5,397.7 572.8,395.9 573.1,394.0 573.4,392.1 573.8,390.2 574.1,388.4 574.4,386.8 574.8,385.0 575.1,383.0 575.4,381.0 575.8,379.1 576.1,377.2 576.4,375.4 576.7,373.9 577.1,372.6 577.4,371.4 577.7,370.2 578.1,368.9 578.4,367.8 578.7,366.6 579.1,365.5 579.4,364.4 579.7,363.5 580.0,362.6 580.4,361.9 580.7,361.3 581.0,360.8 581.4,360.5 581.7,360.3 582.0,360.3 582.4,360.5 582.7,360.9 583.0,361.4 583.3,362.0 583.7,362.8 584.0,363.6 584.3,364.6 584.7,365.6 585.0,366.8 585.3,368.0 585.7,369.2 586.0,370.5 586.3,371.8 586.6,373.1 587.0,374.8 587.3,377.0 587.6,379.5 588.0,382.3 588.3,385.3 588.6,388.4 589.0,391.6 589.3,394.6 589.6,397.4 589.9,399.9 590.3,402.1 590.6,404.0 590.9,405.7 591.3,407.4 591.6,409.1 591.9,410.6 592.3,412.1 592.6,413.6 592.9,415.0 593.2,416.3 593.6,417.6 593.9,418.9 594.2,420.1 594.6,421.3 594.9,422.5 595.2,423.6 595.6,424.7 595.9,425.9 596.2,426.9 596.5,428.0 596.9,429.0 597.2,430.1 597.5,431.1 597.9,432.0 598.2,432.9 598.5,433.9 598.9,434.7 599.2,435.6 599.5,436.4 599.8,437.2 600.2,437.9 600.5,438.6 600.8,439.3 601.2,440.0 601.5,440.6 601.8,441.2 602.2,441.8 602.5,442.4 602.8,443.0 603.1,443.5 603.5,444.1 603.8,444.6 604.1,445.1 604.5,445.6 604.8,446.1 605.1,446.6 605.5,447.1 605.8,447.6 606.1,448.1 606.4,448.6 606.8,449.1 607.1,449.5 607.4,450.0 607.8,450.5 608.1,451.0 608.4,451.4 608.8,451.9 609.1,452.3 609.4,452.7 609.7,453.2 610.1,453.6 610.4,454.0 610.7,454.4"/><polyline stroke="#00b050" stroke-width="2.5" points="40.5,425.2 40.8,424.7 41.2,424.7 41.5,424.9 41.8,424.8 42.1,424.7 42.5,424.5 42.8,424.6 43.1,425.2 43.5,425.7 43.8,425.4 44.1,424.9 44.5,424.8 44.8,424.7 45.1,424.6 45.4,424.8 45.8,425.0 46.1,425.1 46.4,425.2 46.8,425.1 47.1,425.2 47.4,425.4 47.8,425.3 48.1,424.9 48.4,425.0 48.7,425.3 49.1,425.5 49.4,425.1 49.7,425.0 50.1,425.1 50.4,424.9 50.7,424.9 51.1,425.2 51.4,425.3 51.7,425.2 52.0,424.8 52.4,424.5 52.7,424.8 53.0,424.7 53.4,424.5 53.7,425.0 54.0,425.1 54.4,424.8 54.7,424.7 55.0,424.9 55.3,425.2 55.7,425.4 56.0,425.4 56.3,425.3 56.7,425.3 57.0,425.0 57.3,424.8 57.7,425.1 58.0,425.2 58.3,424.9 58.6,424.8 59.0,424.7 59.3,424.5 59.6,424.9 60.0,425.0 60.3,424.7 60.6,424.7 61.0,424.9 61.3,424.8 61.6,424.5 61.9,424.6 62.3,425.2 62.6,425.1 62.9,424.6 63.3,424.7 63.6,424.9 63.9,425.1 64.3,425.2 64.6,424.9 64.9,424.8 65.2,425.0 65.6,425.2 65.9,425.1 66.2,424.7 66.6,424.7 66.9,425.3 67.2,425.5 67.6,425.4 67.9,425.4 68.2,425.1 68.5,424.8 68.9,424.6 69.2,424.9 69.5,425.1 69.9,424.7 70.2,424.6 70.5,424.9 70.9,425.1 71.2,425.0 71.5,424.6 71.8,424.4 72.2,424.9 72.5,425.4 72.8,425.4 73.2,425.1 73.5,425.0 73.8,425.0 74.2,425.1 74.5,425.1 74.8,424.9 75.1,424.9 75.5,425.1 75.8,425.1 76.1,425.4 76.5,425.8 76.8,425.8 77.1,425.3 77.5,424.6 77.8,424.6 78.1,424.9 78.4,424.8 78.8,424.7 79.1,425.1 79.4,425.2 79.8,424.7 80.1,424.5 80.4,424.7 80.8,425.0 81.1,425.4 81.4,425.5 81.7,425.3 82.1,425.2 82.4,425.3 82.7,425.5 83.1,425.6 83.4,425.3 83.7,424.9 84.1,424.7 84.4,425.0 84.7,425.3 85.0,425.3 85.4,425.0 85.7,424.9 86.0,425.0 86.4,424.8 86.7,424.8 87.0,425.3 87.4,425.6 87.7,425.2 88.0,424.7 88.3,424.5 88.7,424.6 89.0,425.1 89.3,425.3 89.7,425.1 90.0,425.1 90.3,425.1 90.7,424.9 91.0,424.6 91.3,424.7 91.6,424.9 92.0,424.8 92.3,424.7 92.6,424.6 93.0,424.8 93.3,424.9 93.6,424.6 94.0,424.5 94.3,424.6 94.6,424.6 94.9,424.2 95.3,423.6 95.6,423.5 95.9,423.4 96.3,423.3 96.6,423.3 96.9,423.2 97.3,422.9 97.6,422.7 97.9,422.5 98.2,422.0 98.6,421.7 98.9,421.6 99.2,421.6 99.6,421.8 99.9,421.8 100.2,421.5 100.6,421.0 100.9,420.6 101.2,420.6 101.5,420.5 101.9,420.2 102.2,420.1 102.5,420.2 102.9,420.1 103.2,419.8 103.5,419.6 103.9,419.2 104.2,418.9 104.5,418.7 104.8,418.7 105.2,418.9 105.5,419.1 105.8,418.9 106.2,418.9 106.5,418.9 106.8,418.6 107.2,418.3 107.5,417.9 107.8,417.8 108.1,417.8 108.5,417.7 108.8,417.9 109.1,418.1 109.5,418.1 109.8,417.8 110.1,417.6 110.5,417.6 110.8,417.6 111.1,417.5 111.4,417.6 111.8,417.5 112.1,417.4 112.4,417.3 112.8,417.1 113.1,416.9 113.4,417.0 113.8,417.2 114.1,417.7 114.4,417.6 114.7,417.0 115.1,417.1 115.4,417.2 115.7,417.1 116.1,417.2 116.4,417.0 116.7,416.7 117.1,416.9 117.4,417.2 117.7,417.1 118.0,417.0 118.4,417.3 118.7,417.3 119.0,416.9 119.4,416.9 119.7,417.0 120.0,417.2 120.4,417.5 120.7,417.3 121.0,416.8 121.3,416.8 121.7,417.3 122.0,417.7 122.3,417.4 122.7,417.2 123.0,417.3 123.3,417.5 123.7,417.6 124.0,417.4 124.3,417.3 124.6,417.3 125.0,417.1 125.3,417.1 125.6,417.4 126.0,417.3 126.3,417.0 126.6,416.8 127.0,416.9 127.3,417.3 127.6,417.5 127.9,417.5 128.3,417.6 128.6,417.4 128.9,417.3 129.3,417.4 129.6,417.3 129.9,417.3 130.3,417.4 130.6,417.6 130.9,417.3 131.2,417.2 131.6,417.5 131.9,417.7 132.2,417.4 132.6,417.2 132.9,417.4 133.2,417.4 133.6,417.1 133.9,417.4 134.2,417.6 134.5,417.6 134.9,417.8 135.2,417.8 135.5,417.5 135.9,417.4 136.2,417.2 136.5,417.6 136.9,418.0 137.2,418.0 137.5,418.1 137.8,418.2 138.2,418.2 138.5,417.8 138.8,417.4 139.2,417.7 139.5,418.0 139.8,417.8 140.2,417.8 140.5,418.1 140.8,418.0 141.1,417.8 141.5,418.2 141.8,418.6 142.1,418.7 142.5,419.0 142.8,419.1 143.1,418.8 143.5,418.4 143.8,418.4 144.1,418.8 144.4,419.2 144.8,419.2 145.1,419.2 145.4,419.1 145.8,419.1 146.1,419.1 146.4,419.0 146.8,418.8 147.1,418.8 147.4,419.0 147.7,419.0 148.1,419.2 148.4,419.6 148.7,420.0 149.1,420.5 149.4,420.2 149.7,419.8 150.1,420.0 150.4,419.9 150.7,419.9 151.0,420.0 151.4,419.6 151.7,419.3 152.0,419.8 152.4,420.3 152.7,420.4 153.0,420.1 153.4,420.1 153.7,420.4 154.0,420.3 154.3,420.5 154.7,420.9 155.0,420.7 155.3,420.6 155.7,420.7 156.0,420.8 156.3,420.7 156.7,420.9 157.0,421.3 157.3,421.5 157.6,421.0 158.0,420.8 158.3,421.0 158.6,421.1 159.0,421.2 159.3,421.4 159.6,421.4 160.0,421.2 160.3,420.9 160.6,420.6 160.9,421.1 161.3,421.7 161.6,421.5 161.9,421.2 162.3,421.3 162.6,421.7 162.9,421.7 163.3,421.6 163.6,421.9 163.9,422.1 164.2,422.0 164.6,422.1 164.9,422.4 165.2,422.3 165.6,422.0 165.9,422.0 166.2,422.1 166.6,422.4 166.9,422.4 167.2,422.6 167.5,422.8 167.9,422.9 168.2,422.8 168.5,422.3 168.9,422.1 169.2,422.5 169.5,422.8 169.9,422.8 170.2,422.7 170.5,422.6 170.8,422.4 171.2,422.6 171.5,423.0 171.8,422.9 172.2,422.6 172.5,422.4 172.8,422.8 173.2,423.3 173.5,423.1 173.8,423.0 174.1,423.4 174.5,423.7 174.8,423.6 175.1,423.5 175.5,423.5 175.8,423.5 176.1,423.3 176.5,423.3 176.8,423.5 177.1,423.7 177.4,423.5 177.8,423.1 178.1,423.4 178.4,423.6 178.8,423.5 179.1,423.6 179.4,423.7 179.8,423.6 180.1,423.4 180.4,423.5 180.7,423.9 181.1,424.0 181.4,423.8 181.7,423.7 182.1,423.8 182.4,423.8 182.7,423.4 183.1,423.3 183.4,423.4 183.7,423.4 184.0,423.5 184.4,423.8 184.7,423.8 185.0,423.7 185.4,423.7 185.7,423.6 186.0,423.6 186.4,423.4 186.7,423.5 187.0,423.9 187.3,423.9 187.7,423.7 188.0,423.9 188.3,424.1 188.7,424.1 189.0,424.2 189.3,424.3 189.7,424.0 190.0,423.9 190.3,424.1 190.6,424.5 191.0,424.7 191.3,424.6 191.6,424.4 192.0,424.3 192.3,424.4 192.6,424.4 193.0,424.6 193.3,424.5 193.6,424.3 193.9,424.3 194.3,424.6 194.6,425.1 194.9,425.3 195.3,424.8 195.6,424.2 195.9,424.0 196.3,424.3 196.6,424.4 196.9,424.4 197.2,424.5 197.6,424.3 197.9,424.4 198.2,424.5 198.6,424.5 198.9,424.8 199.2,424.8 199.6,424.3 199.9,424.2 200.2,424.7 200.5,424.6 200.9,424.4 201.2,424.5 201.5,424.6 201.9,424.8 202.2,424.9 202.5,425.1 202.9,425.2 203.2,425.1 203.5,424.8 203.8,424.7 204.2,424.5 204.5,424.0 204.8,423.4 205.2,423.4 205.5,423.3 205.8,423.1 206.2,422.7 206.5,422.2 206.8,422.0 207.1,421.8 207.5,421.1 207.8,420.5 208.1,420.1 208.5,419.6 208.8,419.2 209.1,418.9 209.5,418.6 209.8,418.0 210.1,416.9 210.4,415.8 210.8,415.0 211.1,414.0 211.4,412.6 211.8,411.6 212.1,410.8 212.4,409.9 212.8,408.8 213.1,407.6 213.4,406.6 213.7,406.0 214.1,405.1 214.4,403.8 214.7,402.6 215.1,401.4 215.4,400.1 215.7,399.1 216.1,398.3 216.4,397.5 216.7,396.6 217.0,395.9 217.4,395.8 217.7,395.8 218.0,395.8 218.4,396.2 218.7,397.1 219.0,397.7 219.4,398.5 219.7,399.6 220.0,400.4 220.3,401.0 220.7,401.1 221.0,400.9 221.3,401.0 221.7,401.1 222.0,400.8 222.3,400.7 222.7,400.6 223.0,400.6 223.3,401.1 223.6,401.1 224.0,401.0 224.3,401.0 224.6,400.7 225.0,400.8 225.3,401.2 225.6,400.8 226.0,399.8 226.3,399.4 226.6,400.1 226.9,400.6 227.3,400.5 227.6,400.5 227.9,400.5 228.3,400.4 228.6,400.5 228.9,400.9 229.3,401.5 229.6,402.4 229.9,403.7 230.2,405.2 230.6,406.9 230.9,408.8 231.2,410.2 231.6,410.5 231.9,411.1 232.2,412.5 232.6,414.1 232.9,415.4 233.2,416.3 233.5,416.6 233.9,417.3 234.2,418.0 234.5,418.3 234.9,418.8 235.2,419.3 235.5,419.7 235.9,420.2 236.2,420.6 236.5,420.7 236.8,420.7 237.2,421.0 237.5,421.4 237.8,421.8 238.2,422.1 238.5,422.0 238.8,421.9 239.2,422.1 239.5,422.5 239.8,422.7 240.1,422.8 240.5,423.1 240.8,423.2 241.1,422.9 241.5,422.9 241.8,423.2 242.1,423.3 242.5,423.2 242.8,423.8 243.1,424.2 243.4,424.0 243.8,424.2 244.1,424.6 244.4,424.4 244.8,423.9 245.1,424.0 245.4,424.1 245.8,424.0 246.1,424.0 246.4,424.2 246.7,424.3 247.1,424.4 247.4,424.5 247.7,424.6 248.1,424.5 248.4,424.5 248.7,424.8 249.1,424.9 249.4,424.9 249.7,424.9 250.0,424.9 250.4,424.9 250.7,425.0 251.0,425.0 251.4,425.0 251.7,425.0 252.0,424.9 252.4,424.8 252.7,424.9 253.0,425.1 253.3,425.1 253.7,425.0 254.0,425.0 254.3,424.9 254.7,424.8 255.0,424.8 255.3,424.9 255.7,424.8 256.0,424.9 256.3,424.9 256.6,425.0 257.0,425.1 257.3,425.2 257.6,425.3 258.0,425.2 258.3,425.0 258.6,424.9 259.0,424.8 259.3,424.7 259.6,424.7 259.9,424.9 260.3,425.2 260.6,425.3 260.9,425.2 261.3,425.0 261.6,425.0 261.9,425.0 262.3,425.0 262.6,425.1 262.9,425.3 263.2,425.4 263.6,425.4 263.9,425.3 264.2,425.1 264.6,425.1 264.9,425.2 265.2,425.3 265.6,425.0 265.9,424.9 266.2,424.8 266.5,424.9 266.9,425.1 267.2,425.0 267.5,424.8 267.9,424.8 268.2,425.0 268.5,425.2 268.9,425.1 269.2,425.0 269.5,425.0 269.8,425.1 270.2,425.1 270.5,425.0 270.8,424.9 271.2,424.8 271.5,424.9 271.8,425.0 272.2,425.1 272.5,425.2 272.8,425.0 273.1,424.8 273.5,424.9 273.8,425.0 274.1,425.0 274.5,424.8 274.8,424.8 275.1,425.0 275.5,425.1 275.8,424.9 276.1,424.9 276.4,424.9 276.8,424.7 277.1,424.9 277.4,425.2 277.8,425.1 278.1,424.9 278.4,425.0 278.8,425.0 279.1,424.9 279.4,425.0 279.7,425.0 280.1,424.9 280.4,425.0 280.7,424.8 281.1,424.8 281.4,424.9 281.7,425.0 282.1,425.1 282.4,425.1 282.7,425.0 283.0,424.9 283.4,424.9 283.7,425.0 284.0,425.1 284.4,425.0 284.7,425.0 285.0,425.0 285.4,424.9 285.7,425.0 286.0,424.9 286.3,425.0 286.7,425.1 287.0,425.0 287.3,424.8 287.7,424.8 288.0,424.8 288.3,424.8 288.7,424.8 289.0,424.9 289.3,425.1 289.6,425.2 290.0,425.2 290.3,425.1 290.6,425.0 291.0,424.9 291.3,424.8 291.6,424.7 292.0,425.0 292.3,425.2 292.6,425.1 292.9,425.1 293.3,425.1 293.6,425.0 293.9,424.8 294.3,424.8 294.6,424.8 294.9,425.0 295.3,425.2 295.6,425.0 295.9,424.8 296.2,424.9 296.6,424.8 296.9,424.8 297.2,425.0 297.6,425.1 297.9,425.1 298.2,425.0 298.6,424.8 298.9,424.8 299.2,425.1 299.5,425.1 299.9,424.9 300.2,424.9 300.5,425.0 300.9,425.1 301.2,425.0 301.5,425.0 301.9,425.0 302.2,425.0 302.5,424.9 302.8,424.6 303.2,424.5 303.5,424.6 303.8,424.8 304.2,425.0 304.5,425.1 304.8,425.1 305.2,425.0 305.5,425.1 305.8,425.1 306.1,425.0 306.5,425.1 306.8,425.2 307.1,425.2 307.5,425.1 307.8,425.1 308.1,425.0 308.5,424.9 308.8,424.8 309.1,424.9 309.4,424.9 309.8,424.8 310.1,424.7 310.4,424.7 310.8,424.8 311.1,424.7 311.4,424.5 311.8,424.3 312.1,424.5 312.4,424.3 312.7,423.6 313.1,423.0 313.4,423.1 313.7,422.8 314.1,422.1 314.4,421.8 314.7,421.5 315.1,421.4 315.4,421.4 315.7,421.6 316.0,421.2 316.4,420.3 316.7,420.0 317.0,419.9 317.4,419.7 317.7,419.9 318.0,419.9 318.4,419.6 318.7,419.6 319.0,420.0 319.3,420.3 319.7,420.2 320.0,420.0 320.3,419.9 320.7,419.9 321.0,419.9 321.3,420.1 321.7,420.2 322.0,420.2 322.3,420.3 322.6,420.7 323.0,420.9 323.3,420.7 323.6,420.9 324.0,421.3 324.3,421.3 324.6,421.3 325.0,421.4 325.3,421.7 325.6,422.1 325.9,421.9 326.3,421.4 326.6,421.3 326.9,421.9 327.3,422.4 327.6,422.4 327.9,422.4 328.3,422.1 328.6,422.0 328.9,422.4 329.2,422.6 329.6,422.4 329.9,422.2 330.2,422.2 330.6,422.4 330.9,422.4 331.2,422.3 331.6,422.1 331.9,422.3 332.2,422.6 332.5,422.4 332.9,422.1 333.2,421.9 333.5,422.1 333.9,422.3 334.2,422.0 334.5,422.0 334.9,422.5 335.2,422.6 335.5,422.5 335.8,422.5 336.2,422.6 336.5,422.6 336.8,422.5 337.2,422.6 337.5,422.6 337.8,422.4 338.2,422.2 338.5,422.1 338.8,421.7 339.1,421.6 339.5,421.9 339.8,421.9 340.1,421.9 340.5,422.0 340.8,422.2 341.1,421.9 341.5,421.5 341.8,421.7 342.1,421.7 342.4,421.5 342.8,421.7 343.1,422.0 343.4,421.7 343.8,421.2 344.1,421.0 344.4,420.9 344.8,420.3 345.1,419.9 345.4,420.2 345.7,420.7 346.1,421.4 346.4,422.0 346.7,422.6 347.1,423.7 347.4,424.6 347.7,424.6 348.1,423.9 348.4,423.1 348.7,422.3 349.0,422.1 349.4,422.3 349.7,422.7 350.0,422.6 350.4,422.5 350.7,422.8 351.0,422.9 351.4,422.6 351.7,422.4 352.0,422.3 352.3,422.3 352.7,422.3 353.0,422.3 353.3,422.0 353.7,421.6 354.0,421.6 354.3,421.8 354.7,421.6 355.0,421.3 355.3,421.1 355.6,421.0 356.0,420.7 356.3,420.9 356.6,421.3 357.0,421.2 357.3,421.0 357.6,421.1 358.0,421.6 358.3,421.7 358.6,421.4 358.9,421.2 359.3,421.3 359.6,421.6 359.9,421.6 360.3,421.3 360.6,421.5 360.9,421.6 361.3,421.5 361.6,421.4 361.9,421.1 362.2,421.2 362.6,421.5 362.9,421.3 363.2,421.4 363.6,421.8 363.9,421.6 364.2,421.3 364.6,421.4 364.9,421.8 365.2,422.0 365.5,421.9 365.9,421.8 366.2,421.5 366.5,421.6 366.9,422.0 367.2,422.3 367.5,422.4 367.9,422.7 368.2,423.4 368.5,423.4 368.8,423.6 369.2,424.1 369.5,424.3 369.8,424.0 370.2,423.6 370.5,424.1 370.8,424.7 371.2,424.6 371.5,424.3 371.8,424.5 372.1,425.1 372.5,425.1 372.8,424.7 373.1,424.6 373.5,424.4 373.8,424.1 374.1,424.0 374.5,424.1 374.8,424.1 375.1,424.0 375.4,423.5 375.8,423.2 376.1,423.1 376.4,422.8 376.8,422.8 377.1,423.1 377.4,423.3 377.8,423.6 378.1,423.9 378.4,424.1 378.7,424.6 379.1,425.0 379.4,425.2 379.7,425.3 380.1,424.9 380.4,424.6 380.7,424.8 381.1,425.1 381.4,425.4 381.7,425.3 382.0,425.1 382.4,425.2 382.7,425.2 383.0,425.2 383.4,425.1 383.7,425.0 384.0,424.9 384.4,424.8 384.7,424.8 385.0,424.7 385.3,424.6 385.7,424.5 386.0,424.3 386.3,424.3 386.7,424.5 387.0,424.7 387.3,424.6 387.7,424.3 388.0,424.3 388.3,424.4 388.6,424.4 389.0,424.3 389.3,424.3 389.6,424.4 390.0,424.3 390.3,424.3 390.6,424.3 391.0,424.1 391.3,424.0 391.6,424.0 391.9,424.0 392.3,424.0 392.6,423.9 392.9,423.8 393.3,424.0 393.6,424.1 393.9,424.1 394.3,423.9 394.6,423.7 394.9,423.7 395.2,423.7 395.6,423.7 395.9,423.6 396.2,423.7 396.6,423.7 396.9,423.7 397.2,423.7 397.6,423.8 397.9,423.8 398.2,423.8 398.5,423.8 398.9,423.8 399.2,423.7 399.5,423.7 399.9,423.8 400.2,423.7 400.5,423.7 400.9,423.7 401.2,423.7 401.5,423.8 401.8,423.8 402.2,423.8 402.5,423.8 402.8,423.8 403.2,423.7 403.5,423.5 403.8,423.6 404.2,423.8 404.5,423.7 404.8,423.5 405.1,423.5 405.5,423.6 405.8,423.6 406.1,423.7 406.5,423.7 406.8,423.7 407.1,423.7 407.5,423.8 407.8,423.9 408.1,423.8 408.4,423.8 408.8,423.9 409.1,423.8 409.4,423.7 409.8,423.6 410.1,423.6 410.4,423.8 410.8,423.9 411.1,423.9 411.4,423.9 411.7,423.8 412.1,423.7 412.4,423.6 412.7,423.7 413.1,423.8 413.4,423.7 413.7,423.6 414.1,423.5 414.4,423.6 414.7,423.6 415.0,423.3 415.4,422.6 415.7,421.5 416.0,420.2 416.4,418.6 416.7,416.9 417.0,415.4 417.4,414.5 417.7,413.7 418.0,412.6 418.3,411.6 418.7,410.8 419.0,410.5 419.3,410.7 419.7,411.4 420.0,412.4 420.3,413.5 420.7,414.7 421.0,416.2 421.3,418.2 421.6,420.3 422.0,422.0 422.3,423.1 422.6,423.5 423.0,423.6 423.3,423.8 423.6,423.8 424.0,423.7 424.3,423.7 424.6,423.7 424.9,423.7 425.3,423.6 425.6,423.6 425.9,423.7 426.3,423.8 426.6,423.7 426.9,423.8 427.3,423.8 427.6,423.6 427.9,423.5 428.2,423.6 428.6,423.7 428.9,423.6 429.2,423.6 429.6,423.5 429.9,423.5 430.2,423.5 430.6,423.4 430.9,423.1 431.2,422.9 431.5,422.8 431.9,422.6 432.2,422.4 432.5,422.2 432.9,421.9 433.2,421.8 433.5,421.6 433.9,421.4 434.2,421.4 434.5,421.5 434.8,421.6 435.2,421.8 435.5,421.9 435.8,422.1 436.2,422.3 436.5,422.3 436.8,422.4 437.2,422.5 437.5,422.6 437.8,422.6 438.1,422.7 438.5,422.9 438.8,422.9 439.1,423.1 439.5,423.2 439.8,423.2 440.1,423.3 440.5,423.4 440.8,423.5 441.1,423.6 441.4,423.6 441.8,423.9 442.1,424.1 442.4,424.2 442.8,424.2 443.1,424.3 443.4,424.3 443.8,424.3 444.1,424.5 444.4,424.6 444.7,424.7 445.1,424.7 445.4,424.8 445.7,424.7 446.1,424.7 446.4,424.9 446.7,424.9 447.1,424.8 447.4,424.7 447.7,424.9 448.0,424.9 448.4,424.8 448.7,424.8 449.0,424.9 449.4,425.0 449.7,425.0 450.0,425.1 450.4,425.2 450.7,425.2 451.0,425.1 451.3,425.2 451.7,425.3 452.0,425.4 452.3,425.3 452.7,425.2 453.0,425.1 453.3,425.1 453.7,425.2 454.0,425.2 454.3,425.3 454.6,425.4 455.0,425.3 455.3,425.3 455.6,425.3 456.0,425.1 456.3,425.1 456.6,425.3 457.0,425.3 457.3,425.3 457.6,425.3 457.9,425.3 458.3,425.2 458.6,425.1 458.9,425.1 459.3,425.3 459.6,425.2 459.9,425.1 460.3,425.2 460.6,425.0 460.9,424.7 461.2,424.5 461.6,424.3 461.9,424.1 462.2,424.0 462.6,423.9 462.9,423.7 463.2,423.5 463.6,423.4 463.9,423.4 464.2,423.1 464.5,422.8 464.9,422.7 465.2,422.6 465.5,422.6 465.9,422.7 466.2,422.7 466.5,422.9 466.9,423.0 467.2,423.0 467.5,423.1 467.8,423.4 468.2,423.7 468.5,423.8 468.8,423.8 469.2,424.0 469.5,424.3 469.8,424.6 470.2,424.7 470.5,424.9 470.8,424.9 471.1,424.9 471.5,425.0 471.8,425.0 472.1,424.9 472.5,425.0 472.8,425.0 473.1,425.0 473.5,425.1 473.8,425.1 474.1,425.1 474.4,425.0 474.8,425.0 475.1,425.2 475.4,425.1 475.8,425.0 476.1,425.1 476.4,425.1 476.8,425.1 477.1,425.1 477.4,425.2 477.7,425.1 478.1,425.0 478.4,424.9 478.7,425.0 479.1,425.1 479.4,425.0 479.7,424.9 480.1,424.9 480.4,425.0 480.7,425.0 481.0,425.0 481.4,425.0 481.7,424.9 482.0,424.7 482.4,424.4 482.7,424.0 483.0,423.6 483.4,423.3 483.7,423.1 484.0,422.9 484.3,423.1 484.7,423.5 485.0,423.9 485.3,424.2 485.7,424.6 486.0,425.0 486.3,425.2 486.7,425.3 487.0,425.3 487.3,425.3 487.6,425.2 488.0,425.1 488.3,425.1 488.6,425.2 489.0,425.2 489.3,425.1 489.6,425.0 490.0,425.1 490.3,425.1 490.6,425.1 490.9,425.0 491.3,425.0 491.6,425.0 491.9,424.9 492.3,425.0 492.6,425.0 492.9,424.9 493.3,425.0 493.6,425.0 493.9,425.1 494.2,425.0 494.6,425.0 494.9,425.0 495.2,425.2 495.6,425.3 495.9,425.3 496.2,425.3 496.6,425.2 496.9,425.1 497.2,425.2 497.5,425.2 497.9,425.1 498.2,425.0 498.5,424.9 498.9,424.7 499.2,424.5"/><polyline stroke="#00b050" stroke-width="3.0" points="499.2,424.5 499.5,424.3 499.9,424.1 500.2,423.9 500.5,423.6 500.8,423.2 501.2,422.8 501.5,422.3 501.8,421.7 502.2,421.1 502.5,420.5 502.8,419.6 503.2,418.6 503.5,417.4 503.8,416.1 504.1,414.7 504.5,413.3 504.8,412.0 505.1,410.7 505.5,409.5 505.8,408.4 506.1,407.2 506.5,406.1 506.8,405.0 507.1,403.9 507.4,402.8 507.8,401.7 508.1,400.7 508.4,399.7 508.8,398.6 509.1,397.6 509.4,396.7 509.8,395.7 510.1,394.7 510.4,393.8 510.7,392.8 511.1,391.9 511.4,390.9 511.7,390.1 512.1,389.2 512.4,388.4 512.7,387.5 513.1,386.5 513.4,385.3 513.7,383.9 514.0,382.2 514.4,380.2 514.7,378.3 515.0,376.4 515.4,374.8 515.7,373.5 516.0,372.3 516.4,371.1 516.7,370.1 517.0,369.0 517.3,368.0 517.7,367.0 518.0,366.0 518.3,365.0 518.7,364.0 519.0,362.9 519.3,361.8 519.7,360.8 520.0,359.7 520.3,358.6 520.6,357.6 521.0,356.6 521.3,355.5 521.6,354.5 522.0,353.5 522.3,352.5 522.6,351.5 523.0,350.6 523.3,349.6 523.6,348.7 523.9,347.8 524.3,346.8 524.6,345.9 524.9,344.9 525.3,343.9 525.6,342.9 525.9,341.9 526.3,340.9 526.6,340.0 526.9,339.0 527.2,338.0 527.6,336.9 527.9,335.8 528.2,334.5 528.6,333.2 528.9,331.6 529.2,329.8 529.6,327.8 529.9,325.6 530.2,323.3 530.5,321.1 530.9,318.6 531.2,316.1 531.5,313.5 531.9,311.1 532.2,308.7 532.5,306.3 532.9,304.0 533.2,301.7 533.5,299.6 533.8,297.5 534.2,295.6 534.5,293.6 534.8,291.5 535.2,289.4 535.5,287.3 535.8,285.1 536.2,282.8 536.5,280.1 536.8,276.7 537.1,272.9 537.5,269.1 537.8,265.6 538.1,262.0 538.5,258.5 538.8,254.9 539.1,251.4 539.5,247.8 539.8,244.3 540.1,240.8 540.4,237.3 540.8,233.8 541.1,230.3 541.4,226.8 541.8,223.3 542.1,219.9 542.4,216.4 542.8,213.0 543.1,209.5 543.4,206.1 543.7,202.7 544.1,199.3 544.4,195.9 544.7,192.5 545.1,189.1 545.4,185.7 545.7,182.4 546.1,179.0 546.4,175.7 546.7,172.4 547.0,169.0 547.4,165.7 547.7,162.5 548.0,159.2 548.4,155.9 548.7,152.7 549.0,149.4 549.4,146.2 549.7,143.0 550.0,139.8 550.3,136.7 550.7,133.8 551.0,131.0 551.3,128.1 551.7,125.1 552.0,121.9 552.3,118.5 552.7,114.6 553.0,110.4 553.3,105.8 553.6,101.0 554.0,96.1 554.3,91.2 554.6,86.3 555.0,81.6 555.3,76.8 555.6,72.0 556.0,67.3 556.3,63.1 556.6,58.7 556.9,55.1 557.3,55.3 557.6,59.1 557.9,63.5 558.3,67.1 558.6,70.8 558.9,75.0 559.3,80.1 559.6,86.7 559.9,96.1 560.2,107.8 560.6,121.3 560.9,139.5 561.2,156.9 561.6,171.8 561.9,186.1 562.2,201.0 562.6,217.8 562.9,239.9 563.2,265.0 563.5,283.0 563.9,293.8 564.2,302.3 564.5,310.3 564.9,318.6 565.2,326.4 565.5,333.1 565.9,338.0 566.2,342.2 566.5,345.8 566.8,349.0 567.2,351.9 567.5,354.4 567.8,356.7 568.2,359.0 568.5,361.3 568.8,363.6 569.2,365.7 569.5,367.6 569.8,369.4 570.1,370.8 570.5,371.9 570.8,372.7 571.1,373.0 571.5,372.9 571.8,372.4 572.1,371.6 572.5,370.6 572.8,369.4 573.1,368.0 573.4,366.6 573.8,365.1 574.1,363.6 574.4,362.1 574.8,360.7 575.1,359.2 575.4,357.6 575.8,355.8 576.1,353.9 576.4,352.0 576.7,350.1 577.1,348.2 577.4,346.4 577.7,344.7 578.1,343.1 578.4,341.7 578.7,340.6 579.1,339.7 579.4,338.8 579.7,337.9 580.0,337.1 580.4,336.4 580.7,335.7 581.0,335.2 581.4,334.9 581.7,334.7 582.0,334.8 582.4,335.1 582.7,335.7 583.0,336.5 583.3,337.4 583.7,338.5 584.0,339.6 584.3,340.7 584.7,341.9 585.0,343.1 585.3,344.6 585.7,346.3 586.0,348.1 586.3,350.1 586.6,352.1 587.0,354.2 587.3,356.3 587.6,358.3 588.0,360.3 588.3,362.1 588.6,363.9 589.0,365.5 589.3,367.2 589.6,368.9 589.9,370.5 590.3,372.1 590.6,373.7 590.9,375.3 591.3,376.9 591.6,378.4 591.9,379.9 592.3,381.4 592.6,382.8 592.9,384.3 593.2,385.7 593.6,387.0 593.9,388.4 594.2,389.7 594.6,391.0 594.9,392.2 595.2,393.5 595.6,394.7 595.9,395.9 596.2,397.0 596.5,398.2 596.9,399.3 597.2,400.4 597.5,401.6 597.9,402.7 598.2,403.8 598.5,404.9 598.9,405.9 599.2,406.9 599.5,407.9 599.8,408.8 600.2,409.7 600.5,410.5 600.8,411.2 601.2,412.0 601.5,412.7 601.8,413.4 602.2,414.1 602.5,414.8 602.8,415.4 603.1,416.1 603.5,416.7 603.8,417.3 604.1,417.9 604.5,418.4 604.8,419.0 605.1,419.5 605.5,420.0 605.8,420.5 606.1,420.9 606.4,421.4 606.8,421.8 607.1,422.2 607.4,422.6 607.8,423.0 608.1,423.4 608.4,423.7 608.8,424.1 609.1,424.4 609.4,424.7 609.7,425.0 610.1,425.3 610.4,425.6 610.7,425.8"/><polyline stroke="#ed7d31" stroke-width="2.5" points="40.5,396.4 40.8,396.7 41.2,397.1 41.5,396.8 41.8,396.3 42.1,396.3 42.5,396.5 42.8,396.4 43.1,396.3 43.5,396.5 43.8,396.9 44.1,397.0 44.5,396.9 44.8,396.6 45.1,396.6 45.4,396.7 45.8,396.5 46.1,396.6 46.4,396.5 46.8,396.3 47.1,396.3 47.4,396.4 47.8,396.6 48.1,396.8 48.4,396.7 48.7,396.3 49.1,396.3 49.4,396.5 49.7,396.4 50.1,396.1 50.4,396.3 50.7,396.4 51.1,396.4 51.4,396.7 51.7,396.9 52.0,397.0 52.4,396.8 52.7,396.4 53.0,396.3 53.4,396.5 53.7,396.9 54.0,396.8 54.4,396.5 54.7,396.3 55.0,396.3 55.3,396.3 55.7,396.5 56.0,396.8 56.3,397.0 56.7,396.7 57.0,396.5 57.3,396.6 57.7,396.4 58.0,396.4 58.3,396.7 58.6,396.6 59.0,396.5 59.3,396.7 59.6,396.7 60.0,396.7 60.3,396.9 60.6,397.0 61.0,397.0 61.3,396.8 61.6,396.7 61.9,396.6 62.3,396.5 62.6,396.7 62.9,396.4 63.3,396.5 63.6,396.9 63.9,396.7 64.3,396.5 64.6,396.9 64.9,396.9 65.2,396.7 65.6,396.5 65.9,396.2 66.2,395.9 66.6,395.8 66.9,396.1 67.2,396.6 67.6,397.1 67.9,397.2 68.2,396.8 68.5,396.6 68.9,396.6 69.2,396.3 69.5,396.0 69.9,396.0 70.2,396.1 70.5,396.2 70.9,396.4 71.2,396.6 71.5,396.8 71.8,396.8 72.2,396.8 72.5,397.0 72.8,396.9 73.2,396.6 73.5,396.6 73.8,396.7 74.2,396.9 74.5,397.0 74.8,396.9 75.1,396.8 75.5,396.6 75.8,396.5 76.1,396.5 76.5,396.8 76.8,396.8 77.1,396.7 77.5,396.8 77.8,396.6 78.1,396.7 78.4,396.9 78.8,396.7 79.1,396.4 79.4,396.4 79.8,396.4 80.1,396.8 80.4,396.8 80.8,396.9 81.1,397.4 81.4,397.4 81.7,397.0 82.1,396.9 82.4,397.1 82.7,397.1 83.1,396.8 83.4,396.8 83.7,396.9 84.1,396.9 84.4,396.9 84.7,396.7 85.0,396.3 85.4,395.9 85.7,395.8 86.0,396.4 86.4,396.8 86.7,396.6 87.0,396.9 87.4,397.0 87.7,396.7 88.0,396.6 88.3,396.5 88.7,396.4 89.0,396.4 89.3,396.6 89.7,396.8 90.0,396.8 90.3,396.6 90.7,396.6 91.0,396.5 91.3,396.5 91.6,396.7 92.0,396.6 92.3,396.5 92.6,396.4 93.0,396.1 93.3,395.9 93.6,396.0 94.0,396.0 94.3,396.0 94.6,396.0 94.9,395.2 95.3,394.4 95.6,394.7 95.9,395.1 96.3,394.7 96.6,394.1 96.9,394.0 97.3,394.2 97.6,394.1 97.9,393.7 98.2,393.5 98.6,393.4 98.9,392.9 99.2,392.4 99.6,392.3 99.9,392.1 100.2,391.9 100.6,391.7 100.9,391.1 101.2,390.6 101.5,391.0 101.9,391.1 102.2,390.5 102.5,390.1 102.9,389.8 103.2,389.4 103.5,389.3 103.9,389.1 104.2,388.7 104.5,388.4 104.8,388.3 105.2,388.6 105.5,388.5 105.8,388.0 106.2,387.5 106.5,387.2 106.8,387.3 107.2,387.1 107.5,386.6 107.8,386.2 108.1,385.7 108.5,385.6 108.8,385.6 109.1,385.0 109.5,384.8 109.8,385.0 110.1,385.0 110.5,384.7 110.8,384.5 111.1,384.3 111.4,384.3 111.8,384.0 112.1,383.7 112.4,383.5 112.8,383.5 113.1,383.7 113.4,383.6 113.8,382.9 114.1,382.3 114.4,381.8 114.7,381.7 115.1,381.7 115.4,381.6 115.7,381.4 116.1,381.3 116.4,381.0 116.7,380.5 117.1,380.5 117.4,380.8 117.7,380.7 118.0,380.4 118.4,380.4 118.7,380.0 119.0,379.6 119.4,379.5 119.7,379.8 120.0,379.9 120.4,380.0 120.7,379.8 121.0,379.6 121.3,379.6 121.7,379.6 122.0,379.3 122.3,379.1 122.7,379.1 123.0,379.3 123.3,379.4 123.7,379.4 124.0,379.1 124.3,378.9 124.6,378.7 125.0,378.6 125.3,378.8 125.6,379.0 126.0,378.7 126.3,378.4 126.6,378.5 127.0,378.4 127.3,378.2 127.6,378.0 127.9,378.3 128.3,378.8 128.6,378.7 128.9,378.3 129.3,377.9 129.6,377.8 129.9,378.1 130.3,378.3 130.6,378.4 130.9,378.3 131.2,378.6 131.6,378.8 131.9,378.6 132.2,378.6 132.6,378.6 132.9,378.8 133.2,379.2 133.6,379.3 133.9,379.0 134.2,379.2 134.5,379.3 134.9,379.1 135.2,379.1 135.5,379.2 135.9,379.4 136.2,379.8 136.5,380.3 136.9,380.7 137.2,380.8 137.5,380.5 137.8,380.3 138.2,380.2 138.5,380.1 138.8,380.2 139.2,380.6 139.5,380.6 139.8,380.4 140.2,380.8 140.5,381.3 140.8,381.5 141.1,381.3 141.5,381.4 141.8,381.4 142.1,381.4 142.5,381.6 142.8,381.7 143.1,381.7 143.5,382.0 143.8,382.0 144.1,382.1 144.4,382.2 144.8,382.3 145.1,382.7 145.4,383.0 145.8,382.9 146.1,383.3 146.4,383.8 146.8,383.7 147.1,383.8 147.4,384.1 147.7,384.1 148.1,384.3 148.4,384.4 148.7,384.7 149.1,384.8 149.4,384.9 149.7,385.3 150.1,385.4 150.4,385.2 150.7,385.3 151.0,385.5 151.4,385.8 151.7,386.2 152.0,386.3 152.4,386.1 152.7,386.3 153.0,386.8 153.4,386.9 153.7,387.1 154.0,387.4 154.3,387.4 154.7,387.3 155.0,387.5 155.3,387.9 155.7,387.9 156.0,387.6 156.3,387.6 156.7,387.7 157.0,388.1 157.3,388.3 157.6,388.1 158.0,387.9 158.3,387.9 158.6,388.4 159.0,388.5 159.3,388.6 159.6,388.8 160.0,388.7 160.3,388.6 160.6,388.6 160.9,389.0 161.3,389.6 161.6,389.5 161.9,389.4 162.3,389.3 162.6,388.9 162.9,389.3 163.3,389.6 163.6,389.7 163.9,389.7 164.2,389.6 164.6,390.0 164.9,390.2 165.2,389.7 165.6,389.8 165.9,390.3 166.2,390.5 166.6,390.6 166.9,390.8 167.2,390.8 167.5,390.7 167.9,390.7 168.2,390.6 168.5,390.3 168.9,390.7 169.2,391.4 169.5,391.9 169.9,392.0 170.2,391.7 170.5,391.7 170.8,392.1 171.2,392.2 171.5,392.4 171.8,392.4 172.2,392.1 172.5,391.9 172.8,392.4 173.2,393.2 173.5,393.5 173.8,393.4 174.1,393.1 174.5,393.0 174.8,393.2 175.1,393.4 175.5,393.6 175.8,393.9 176.1,394.1 176.5,393.9 176.8,393.7 177.1,393.8 177.4,394.0 177.8,394.0 178.1,394.0 178.4,394.3 178.8,394.6 179.1,394.4 179.4,394.0 179.8,394.0 180.1,394.2 180.4,394.2 180.7,394.3 181.1,394.6 181.4,394.7 181.7,394.6 182.1,395.0 182.4,395.1 182.7,394.8 183.1,395.2 183.4,395.5 183.7,395.1 184.0,394.8 184.4,394.8 184.7,394.9 185.0,395.0 185.4,395.0 185.7,394.8 186.0,394.8 186.4,394.9 186.7,394.9 187.0,394.9 187.3,395.0 187.7,394.9 188.0,395.1 188.3,395.1 188.7,394.8 189.0,395.0 189.3,395.0 189.7,394.8 190.0,394.8 190.3,394.9 190.6,395.1 191.0,395.2 191.3,395.2 191.6,395.4 192.0,395.4 192.3,395.6 192.6,395.6 193.0,395.4 193.3,395.8 193.6,396.1 193.9,395.7 194.3,395.6 194.6,395.6 194.9,395.5 195.3,395.4 195.6,395.5 195.9,395.8 196.3,395.9 196.6,395.9 196.9,396.1 197.2,396.1 197.6,395.8 197.9,395.7 198.2,396.1 198.6,395.9 198.9,395.1 199.2,395.0 199.6,395.5 199.9,395.9 200.2,396.0 200.5,395.7 200.9,395.7 201.2,395.6 201.5,395.4 201.9,395.5 202.2,395.6 202.5,395.6 202.9,395.4 203.2,395.1 203.5,395.2 203.8,395.4 204.2,395.5 204.5,395.6 204.8,395.7 205.2,395.4 205.5,395.0 205.8,395.0 206.2,395.0 206.5,394.9 206.8,394.8 207.1,394.5 207.5,394.1 207.8,393.5 208.1,392.9 208.5,392.4 208.8,391.7 209.1,390.9 209.5,390.2 209.8,389.6 210.1,389.1 210.4,388.7 210.8,388.5 211.1,387.9 211.4,386.9 211.8,385.8 212.1,384.9 212.4,383.7 212.8,382.3 213.1,381.0 213.4,379.6 213.7,378.4 214.1,377.3 214.4,375.8 214.7,374.7 215.1,373.8 215.4,372.9 215.7,372.1 216.1,371.8 216.4,371.7 216.7,371.4 217.0,370.9 217.4,370.3 217.7,369.9 218.0,369.7 218.4,369.2 218.7,368.8 219.0,368.6 219.4,368.4 219.7,368.5 220.0,368.1 220.3,367.5 220.7,367.5 221.0,367.3 221.3,367.1 221.7,366.8 222.0,366.2 222.3,365.9 222.7,365.6 223.0,364.9 223.3,364.3 223.6,363.9 224.0,363.3 224.3,362.7 224.6,362.5 225.0,361.8 225.3,360.7 225.6,360.7 226.0,361.1 226.3,360.9 226.6,360.0 226.9,359.4 227.3,359.6 227.6,360.1 227.9,360.5 228.3,361.2 228.6,362.4 228.9,364.1 229.3,365.6 229.6,367.2 229.9,369.0 230.2,370.7 230.6,372.4 230.9,374.1 231.2,376.1 231.6,378.7 231.9,380.8 232.2,381.9 232.6,382.7 232.9,383.8 233.2,385.1 233.5,386.2 233.9,386.8 234.2,387.3 234.5,388.0 234.9,388.3 235.2,388.3 235.5,388.4 235.9,388.9 236.2,389.4 236.5,389.8 236.8,390.1 237.2,390.3 237.5,390.6 237.8,391.1 238.2,391.7 238.5,392.0 238.8,392.6 239.2,392.6 239.5,392.3 239.8,392.6 240.1,392.8 240.5,392.7 240.8,393.0 241.1,393.3 241.5,393.4 241.8,393.4 242.1,393.7 242.5,393.9 242.8,393.9 243.1,393.9 243.4,394.0 243.8,394.1 244.1,394.1 244.4,394.1 244.8,394.6 245.1,394.8 245.4,394.8 245.8,394.8 246.1,394.9 246.4,395.1 246.7,395.0 247.1,395.1 247.4,395.3 247.7,395.4 248.1,395.2 248.4,395.2 248.7,395.2 249.1,395.1 249.4,395.3 249.7,395.5 250.0,395.7 250.4,395.6 250.7,395.5 251.0,395.5 251.4,395.5 251.7,395.6 252.0,395.7 252.4,395.6 252.7,395.6 253.0,395.6 253.3,395.7 253.7,395.7 254.0,395.6 254.3,395.7 254.7,395.8 255.0,396.0 255.3,396.0 255.7,395.8 256.0,395.6 256.3,395.6 256.6,395.9 257.0,396.0 257.3,396.0 257.6,396.0 258.0,395.8 258.3,395.8 258.6,395.9 259.0,395.8 259.3,395.8 259.6,395.9 259.9,395.9 260.3,396.0 260.6,395.8 260.9,395.6 261.3,395.5 261.6,395.5 261.9,395.7 262.3,395.7 262.6,395.8 262.9,395.8 263.2,395.6 263.6,395.5 263.9,395.7 264.2,395.8 264.6,395.6 264.9,395.7 265.2,396.0 265.6,396.1 265.9,396.0 266.2,396.0 266.5,395.8 266.9,395.8 267.2,395.8 267.5,395.8 267.9,395.7 268.2,395.8 268.5,395.8 268.9,395.8 269.2,395.9 269.5,396.0 269.8,395.8 270.2,395.7 270.5,395.8 270.8,395.7 271.2,395.7 271.5,395.6 271.8,395.4 272.2,395.5 272.5,395.6 272.8,395.7 273.1,395.9 273.5,396.0 273.8,396.1 274.1,396.1 274.5,396.0 274.8,395.9 275.1,395.9 275.5,395.7 275.8,395.8 276.1,396.0 276.4,395.9 276.8,395.6 277.1,395.7 277.4,395.9 277.8,396.0 278.1,395.9 278.4,395.6 278.8,395.5 279.1,395.6 279.4,395.7 279.7,395.7 280.1,395.8 280.4,395.8 280.7,395.8 281.1,395.9 281.4,395.9 281.7,395.8 282.1,395.7 282.4,395.9 282.7,395.9 283.0,395.9 283.4,395.8 283.7,395.7 284.0,395.7 284.4,395.7 284.7,395.7 285.0,395.9 285.4,395.9 285.7,395.9 286.0,396.0 286.3,395.9 286.7,395.6 287.0,395.6 287.3,395.8 287.7,395.6 288.0,395.4 288.3,395.6 288.7,395.9 289.0,395.9 289.3,395.9 289.6,395.8 290.0,395.8 290.3,395.8 290.6,395.8 291.0,395.8 291.3,395.8 291.6,395.8 292.0,395.9 292.3,396.0 292.6,395.8 292.9,395.5 293.3,395.6 293.6,395.7 293.9,395.7 294.3,395.7 294.6,395.7 294.9,395.9 295.3,395.9 295.6,395.9 295.9,396.0 296.2,396.0 296.6,395.8 296.9,395.7 297.2,395.9 297.6,396.1 297.9,395.9 298.2,395.8 298.6,396.0 298.9,396.1 299.2,396.0 299.5,395.7 299.9,395.5 300.2,395.6 300.5,395.7 300.9,395.8 301.2,395.8 301.5,395.6 301.9,395.5 302.2,395.6 302.5,395.7 302.8,395.8 303.2,395.8 303.5,395.8 303.8,395.9 304.2,395.8 304.5,395.8 304.8,395.8 305.2,395.6 305.5,395.6 305.8,395.8 306.1,395.8 306.5,395.7 306.8,395.7 307.1,395.8 307.5,395.7 307.8,395.7 308.1,395.8 308.5,395.8 308.8,395.8 309.1,395.8 309.4,396.0 309.8,395.9 310.1,395.5 310.4,395.3 310.8,395.3 311.1,395.3 311.4,395.3 311.8,395.3 312.1,395.4 312.4,395.0 312.7,394.6 313.1,394.2 313.4,394.1 313.7,394.2 314.1,393.8 314.4,393.4 314.7,393.2 315.1,393.1 315.4,393.0 315.7,392.5 316.0,392.2 316.4,392.1 316.7,391.9 317.0,391.8 317.4,391.8 317.7,391.5 318.0,391.2 318.4,391.7 318.7,392.0 319.0,392.2 319.3,392.0 319.7,391.3 320.0,391.1 320.3,391.5 320.7,391.7 321.0,391.5 321.3,391.7 321.7,391.9 322.0,391.9 322.3,392.1 322.6,392.4 323.0,392.5 323.3,392.6 323.6,392.4 324.0,392.1 324.3,392.3 324.6,392.5 325.0,392.7 325.3,392.8 325.6,393.0 325.9,393.1 326.3,393.0 326.6,392.9 326.9,392.9 327.3,393.0 327.6,393.2 327.9,393.3 328.3,393.0 328.6,392.9 328.9,392.9 329.2,393.1 329.6,393.4 329.9,393.5 330.2,393.5 330.6,393.2 330.9,393.1 331.2,393.1 331.6,393.2 331.9,393.2 332.2,393.2 332.5,393.4 332.9,393.6 333.2,393.4 333.5,393.3 333.9,393.1 334.2,392.8 334.5,392.6 334.9,392.8 335.2,392.8 335.5,392.8 335.8,393.0 336.2,393.0 336.5,392.8 336.8,392.9 337.2,393.2 337.5,393.2 337.8,393.4 338.2,393.8 338.5,393.6 338.8,393.1 339.1,392.9 339.5,392.7 339.8,392.4 340.1,392.7 340.5,393.0 340.8,392.8 341.1,392.8 341.5,393.0 341.8,392.9 342.1,392.8 342.4,392.9 342.8,392.6 343.1,392.0 343.4,391.8 343.8,391.9 344.1,392.1 344.4,392.3 344.8,392.2 345.1,391.8 345.4,391.7 345.7,391.9 346.1,392.1 346.4,392.5 346.7,393.5 347.1,394.9 347.4,395.9 347.7,395.8 348.1,395.1 348.4,394.2 348.7,393.1 349.0,392.9 349.4,393.5 349.7,393.4 350.0,393.2 350.4,393.5 350.7,393.8 351.0,393.6 351.4,393.4 351.7,393.4 352.0,393.1 352.3,392.9 352.7,392.8 353.0,392.7 353.3,392.8 353.7,392.6 354.0,392.4 354.3,392.5 354.7,392.7 355.0,392.5 355.3,392.4 355.6,392.2 356.0,391.9 356.3,391.9 356.6,392.1 357.0,392.4 357.3,392.8 357.6,392.7 358.0,392.1 358.3,391.8 358.6,391.5 358.9,391.6 359.3,392.2 359.6,392.2 359.9,391.7 360.3,392.2 360.6,392.8 360.9,392.7 361.3,392.4 361.6,392.3 361.9,392.0 362.2,391.8 362.6,392.0 362.9,392.2 363.2,392.4 363.6,392.7 363.9,393.0 364.2,392.9 364.6,392.7 364.9,392.4 365.2,392.5 365.5,393.0 365.9,393.2 366.2,393.1 366.5,392.7 366.9,392.8 367.2,393.1 367.5,393.1 367.9,393.3 368.2,393.8 368.5,394.3 368.8,394.8 369.2,394.7 369.5,394.6 369.8,394.9 370.2,395.1 370.5,395.4 370.8,395.5 371.2,395.4 371.5,395.5 371.8,395.6 372.1,395.9 372.5,396.3 372.8,396.1 373.1,395.9 373.5,395.9 373.8,395.9 374.1,395.8 374.5,395.3 374.8,394.6 375.1,394.3 375.4,394.1 375.8,394.0 376.1,394.1 376.4,394.3 376.8,394.3 377.1,394.2 377.4,394.2 377.8,394.3 378.1,394.3 378.4,394.4 378.7,395.0 379.1,395.9 379.4,396.5 379.7,396.2 380.1,396.1 380.4,396.0 380.7,395.9 381.1,396.1 381.4,396.1 381.7,395.5 382.0,395.9 382.4,395.9 382.7,396.0 383.0,396.0 383.4,396.0 383.7,395.9 384.0,395.9 384.4,396.0 384.7,395.9 385.0,395.9 385.3,395.7 385.7,395.5 386.0,395.4 386.3,395.5 386.7,395.5 387.0,395.6 387.3,395.7 387.7,395.6 388.0,395.5 388.3,395.4 388.6,395.3 389.0,395.4 389.3,395.4 389.6,395.3 390.0,395.2 390.3,395.2 390.6,395.2 391.0,395.2 391.3,395.1 391.6,395.1 391.9,395.2 392.3,395.0 392.6,395.0 392.9,395.1 393.3,395.1 393.6,395.1 393.9,395.1 394.3,395.0 394.6,394.8 394.9,394.7 395.2,394.7 395.6,394.8 395.9,394.8 396.2,394.8 396.6,394.9 396.9,394.8 397.2,394.8 397.6,394.9 397.9,394.8 398.2,394.7 398.5,394.7 398.9,394.7 399.2,394.7 399.5,394.6 399.9,394.5 400.2,394.6 400.5,394.7 400.9,394.7 401.2,394.6 401.5,394.5 401.8,394.5 402.2,394.7 402.5,394.8 402.8,394.6 403.2,394.5 403.5,394.6 403.8,394.5 404.2,394.3 404.5,394.4 404.8,394.4 405.1,394.6 405.5,394.8 405.8,394.8 406.1,394.7 406.5,394.7 406.8,394.7 407.1,394.7 407.5,394.6 407.8,394.7 408.1,394.7 408.4,394.7 408.8,394.6 409.1,394.7 409.4,394.8 409.8,394.8 410.1,394.7 410.4,394.6 410.8,394.6 411.1,394.7 411.4,394.6 411.7,394.6 412.1,394.8 412.4,394.7 412.7,394.7 413.1,394.7 413.4,394.7 413.7,394.7 414.1,394.5 414.4,394.5 414.7,394.6 415.0,394.7 415.4,394.7 415.7,394.8 416.0,394.9 416.4,394.9 416.7,394.7 417.0,394.6 417.4,394.5 417.7,394.5 418.0,394.6 418.3,394.5 418.7,394.3 419.0,394.3 419.3,394.6 419.7,394.6 420.0,394.5 420.3,394.5 420.7,394.5 421.0,394.5 421.3,394.6 421.6,394.6 422.0,394.6 422.3,394.5 422.6,394.4 423.0,394.4 423.3,394.5 423.6,394.4 424.0,394.5 424.3,394.5 424.6,394.7 424.9,394.7 425.3,394.7 425.6,394.5 425.9,394.6 426.3,394.7 426.6,394.6 426.9,394.5 427.3,394.5 427.6,394.6 427.9,394.6 428.2,394.6 428.6,394.6 428.9,394.7 429.2,394.5 429.6,394.4 429.9,394.5 430.2,394.6 430.6,394.5 430.9,394.2 431.2,394.0 431.5,393.8 431.9,393.5 432.2,393.2 432.5,393.2 432.9,393.1 433.2,392.7 433.5,392.5 433.9,392.5 434.2,392.6 434.5,392.6 434.8,392.7 435.2,392.7 435.5,392.7 435.8,392.7 436.2,392.8 436.5,393.0 436.8,393.3 437.2,393.4 437.5,393.5 437.8,393.5 438.1,393.5 438.5,393.7 438.8,393.8 439.1,394.1 439.5,394.3 439.8,394.3 440.1,394.4 440.5,394.4 440.8,394.4 441.1,394.4 441.4,394.6 441.8,394.9 442.1,395.0 442.4,395.2 442.8,395.2 443.1,395.2 443.4,395.2 443.8,395.4 444.1,395.5 444.4,395.5 444.7,395.7 445.1,395.7 445.4,395.7 445.7,395.7 446.1,395.8 446.4,395.9 446.7,395.9 447.1,395.9 447.4,395.9 447.7,395.9 448.0,395.9 448.4,396.0 448.7,396.2 449.0,396.2 449.4,396.1 449.7,396.2 450.0,396.2 450.4,396.0 450.7,396.1 451.0,396.2 451.3,396.1 451.7,396.1 452.0,396.2 452.3,396.2 452.7,396.3 453.0,396.2 453.3,396.4 453.7,396.5 454.0,396.4 454.3,396.1 454.6,396.1 455.0,396.1 455.3,396.2 455.6,396.2 456.0,396.3 456.3,396.5 456.6,396.5 457.0,396.3 457.3,396.2 457.6,396.2 457.9,396.3 458.3,396.4 458.6,396.3 458.9,396.2 459.3,396.3 459.6,396.4 459.9,396.4 460.3,396.2 460.6,395.9 460.9,395.6 461.2,395.6 461.6,395.6 461.9,395.3 462.2,394.9 462.6,394.7 462.9,394.8 463.2,394.7 463.6,394.4 463.9,394.2 464.2,394.0 464.5,393.8 464.9,393.6 465.2,393.7 465.5,393.7 465.9,393.8 466.2,393.8 466.5,393.8 466.9,393.9 467.2,394.1 467.5,394.1 467.8,394.3 468.2,394.6 468.5,394.7 468.8,394.8 469.2,394.9 469.5,395.1 469.8,395.4 470.2,395.5 470.5,395.6 470.8,395.8 471.1,395.8 471.5,395.9 471.8,396.1 472.1,396.1 472.5,396.0 472.8,396.0 473.1,396.0 473.5,395.9 473.8,395.8 474.1,396.0 474.4,396.1 474.8,396.1 475.1,396.1 475.4,396.1 475.8,396.1 476.1,396.0 476.4,396.0 476.8,396.0 477.1,396.0 477.4,396.0 477.7,396.0 478.1,396.0 478.4,396.1 478.7,396.1 479.1,396.0 479.4,396.0 479.7,396.0 480.1,396.0 480.4,395.9 480.7,395.9 481.0,396.0 481.4,396.1 481.7,395.9 482.0,395.6 482.4,395.3 482.7,395.0 483.0,394.6 483.4,394.3 483.7,394.1 484.0,394.0 484.3,394.1 484.7,394.3 485.0,394.6 485.3,395.1 485.7,395.5 486.0,396.0 486.3,396.3 486.7,396.3 487.0,396.2 487.3,396.3 487.6,396.3 488.0,396.2 488.3,396.2 488.6,396.3 489.0,396.4 489.3,396.3 489.6,396.2 490.0,396.1 490.3,396.1 490.6,396.0 490.9,395.9 491.3,396.0 491.6,395.9 491.9,395.8 492.3,395.9 492.6,396.0 492.9,396.0 493.3,395.9 493.6,395.8 493.9,395.8 494.2,395.8 494.6,395.8 494.9,395.9 495.2,395.9 495.6,395.8 495.9,395.9 496.2,396.0 496.6,395.9 496.9,395.7 497.2,395.8 497.5,395.8 497.9,395.7 498.2,395.6 498.5,395.5 498.9,395.3 499.2,395.1"/><polyline stroke="#ed7d31" stroke-width="3.0" points="499.2,395.1 499.5,394.9 499.9,394.7 500.2,394.5 500.5,394.2 500.8,393.9 501.2,393.5 501.5,393.1 501.8,392.6 502.2,392.2 502.5,391.6 502.8,391.1 503.2,390.4 503.5,389.7 503.8,388.9 504.1,388.0 504.5,387.0 504.8,385.9 505.1,384.8 505.5,383.3 505.8,381.4 506.1,379.5 506.5,377.5 506.8,375.7 507.1,374.2 507.4,372.7 507.8,371.4 508.1,370.1 508.4,368.8 508.8,367.6 509.1,366.4 509.4,365.2 509.8,364.0 510.1,362.8 510.4,361.7 510.7,360.6 511.1,359.6 511.4,358.5 511.7,357.5 512.1,356.4 512.4,355.3 512.7,354.3 513.1,353.2 513.4,352.1 513.7,351.0 514.0,349.9 514.4,348.8 514.7,347.7 515.0,346.6 515.4,345.5 515.7,344.3 516.0,343.1 516.4,341.8 516.7,340.5 517.0,339.2 517.3,337.8 517.7,336.4 518.0,335.0 518.3,333.6 518.7,332.3 519.0,331.0 519.3,329.7 519.7,328.4 520.0,327.1 520.3,325.8 520.6,324.5 521.0,323.3 521.3,322.1 521.6,320.9 522.0,319.7 522.3,318.6 522.6,317.5 523.0,316.4 523.3,315.3 523.6,314.2 523.9,313.2 524.3,312.2 524.6,311.3 524.9,310.4 525.3,309.5 525.6,308.7 525.9,307.9 526.3,307.1 526.6,306.3 526.9,305.6 527.2,304.8 527.6,304.0 527.9,303.2 528.2,302.3 528.6,301.4 528.9,300.4 529.2,299.5 529.6,298.5 529.9,297.5 530.2,296.5 530.5,295.4 530.9,294.2 531.2,293.0 531.5,291.6 531.9,290.2 532.2,288.5 532.5,286.6 532.9,284.5 533.2,282.3 533.5,279.8 533.8,277.1 534.2,274.0 534.5,270.8 534.8,267.8 535.2,264.7 535.5,261.5 535.8,258.4 536.2,255.2 536.5,252.0 536.8,248.8 537.1,245.6 537.5,242.4 537.8,239.2 538.1,236.0 538.5,232.7 538.8,229.5 539.1,226.2 539.5,223.0 539.8,219.8 540.1,216.5 540.4,213.3 540.8,210.1 541.1,206.8 541.4,203.6 541.8,200.4 542.1,197.2 542.4,194.0 542.8,190.8 543.1,187.6 543.4,184.4 543.7,181.2 544.1,178.0 544.4,174.8 544.7,171.6 545.1,168.4 545.4,165.2 545.7,162.0 546.1,158.8 546.4,155.6 546.7,152.4 547.0,149.2 547.4,146.0 547.7,142.8 548.0,139.6 548.4,136.5 548.7,133.4 549.0,130.4 549.4,127.3 549.7,124.1 550.0,120.7 550.3,117.1 550.7,113.2 551.0,109.0 551.3,104.6 551.7,100.1 552.0,95.5 552.3,91.1 552.7,86.8 553.0,82.7 553.3,78.9 553.6,75.0 554.0,71.3 554.3,67.7 554.6,64.2 555.0,61.0 555.3,58.0 555.6,55.4 556.0,53.0 556.3,50.8 556.6,48.6 556.9,46.2 557.3,43.2 557.6,39.6 557.9,39.2 558.3,42.2 558.6,46.4 558.9,52.8 559.3,59.0 559.6,63.4 559.9,66.9 560.2,70.7 560.6,75.7 560.9,82.9 561.2,101.0 561.6,121.3 561.9,136.8 562.2,151.3 562.6,164.7 562.9,177.1 563.2,189.5 563.5,203.1 563.9,218.9 564.2,243.3 564.5,268.9 564.9,277.6 565.2,281.2 565.5,283.5 565.9,285.4 566.2,287.8 566.5,291.7 566.8,297.9 567.2,305.7 567.5,313.9 567.8,321.4 568.2,327.0 568.5,330.3 568.8,333.2 569.2,335.9 569.5,338.3 569.8,340.5 570.1,342.2 570.5,343.6 570.8,344.5 571.1,344.9 571.5,344.7 571.8,344.1 572.1,343.1 572.5,341.8 572.8,340.3 573.1,338.6 573.4,336.7 573.8,334.8 574.1,332.9 574.4,331.1 574.8,329.5 575.1,328.1 575.4,326.7 575.8,325.3 576.1,323.8 576.4,322.4 576.7,320.9 577.1,319.5 577.4,318.2 577.7,316.9 578.1,315.7 578.4,314.6 578.7,313.6 579.1,312.7 579.4,311.8 579.7,310.9 580.0,310.0 580.4,309.2 580.7,308.5 581.0,307.9 581.4,307.5 581.7,307.3 582.0,307.4 582.4,307.7 582.7,308.4 583.0,309.2 583.3,310.2 583.7,311.3 584.0,312.5 584.3,313.7 584.7,314.9 585.0,316.2 585.3,317.7 585.7,319.3 586.0,321.1 586.3,323.1 586.6,325.1 587.0,327.2 587.3,329.2 587.6,331.3 588.0,333.2 588.3,335.1 588.6,336.9 589.0,338.6 589.3,340.4 589.6,342.1 589.9,343.9 590.3,345.6 590.6,347.3 590.9,348.9 591.3,350.5 591.6,352.0 591.9,353.5 592.3,354.9 592.6,356.3 592.9,357.6 593.2,358.8 593.6,360.1 593.9,361.3 594.2,362.5 594.6,363.7 594.9,364.9 595.2,366.0 595.6,367.1 595.9,368.2 596.2,369.2 596.5,370.2 596.9,371.2 597.2,372.2 597.5,373.1 597.9,373.9 598.2,374.8 598.5,375.6 598.9,376.4 599.2,377.2 599.5,378.0 599.8,378.7 600.2,379.5 600.5,380.2 600.8,380.9 601.2,381.6 601.5,382.2 601.8,382.9 602.2,383.5 602.5,384.1 602.8,384.8 603.1,385.3 603.5,385.9 603.8,386.5 604.1,387.1 604.5,387.6 604.8,388.1 605.1,388.7 605.5,389.2 605.8,389.7 606.1,390.2 606.4,390.7 606.8,391.2 607.1,391.6 607.4,392.1 607.8,392.5 608.1,393.0 608.4,393.4 608.8,393.8 609.1,394.2 609.4,394.6 609.7,395.0 610.1,395.4 610.4,395.7"/>
</g>
<g font-size="22" fill="#000"><text x="609.7" y="529.5" textLength="35.6" lengthAdjust="spacingAndGlyphs">500</text><text x="519.6" y="529.5" textLength="47.4" lengthAdjust="spacingAndGlyphs">1000</text><text x="435.2" y="529.5" textLength="47.4" lengthAdjust="spacingAndGlyphs">1500</text><text x="350.7" y="529.5" textLength="47.4" lengthAdjust="spacingAndGlyphs">2000</text><text x="266.2" y="529.5" textLength="47.4" lengthAdjust="spacingAndGlyphs">2500</text><text x="181.8" y="529.5" textLength="47.4" lengthAdjust="spacingAndGlyphs">3000</text><text x="97.3" y="529.5" textLength="47.4" lengthAdjust="spacingAndGlyphs">3500</text><text x="12.8" y="529.5" textLength="47.4" lengthAdjust="spacingAndGlyphs">4000</text></g>
<g font-size="15.2" fill="#595959"><line x1="73" y1="41.3" x2="111.5" y2="41.3" stroke="#4472c4" stroke-width="2.3" stroke-linecap="round"/><text x="115.9" y="46.3" textLength="70.7" lengthAdjust="spacingAndGlyphs">Bare glass</text><line x1="73" y1="73.5" x2="111.5" y2="73.5" stroke="#ffc000" stroke-width="2.3" stroke-linecap="round"/><text x="115.9" y="78.5" textLength="62.8" lengthAdjust="spacingAndGlyphs">Glass+S3</text><line x1="73" y1="105.7" x2="111.5" y2="105.7" stroke="#00b050" stroke-width="2.3" stroke-linecap="round"/><text x="115.9" y="110.7" textLength="62.8" lengthAdjust="spacingAndGlyphs">Glass+S5</text><line x1="73" y1="137.9" x2="111.5" y2="137.9" stroke="#ed7d31" stroke-width="2.3" stroke-linecap="round"/><text x="115.9" y="142.9" textLength="62.8" lengthAdjust="spacingAndGlyphs">Glass+S1</text></g>
<text x="234.9" y="563.3" font-size="21" font-weight="bold" fill="#000" textLength="194" lengthAdjust="spacingAndGlyphs">Wavenumber [cm<tspan font-size="13.8" dy="-8.6">-1</tspan><tspan dy="8.6">]</tspan></text>
<text transform="translate(16.9,260.2) rotate(-90)" font-size="20.5" font-weight="bold" fill="#000" textLength="36.8" lengthAdjust="spacingAndGlyphs">ATR</text>
</svg>
</body></html>
